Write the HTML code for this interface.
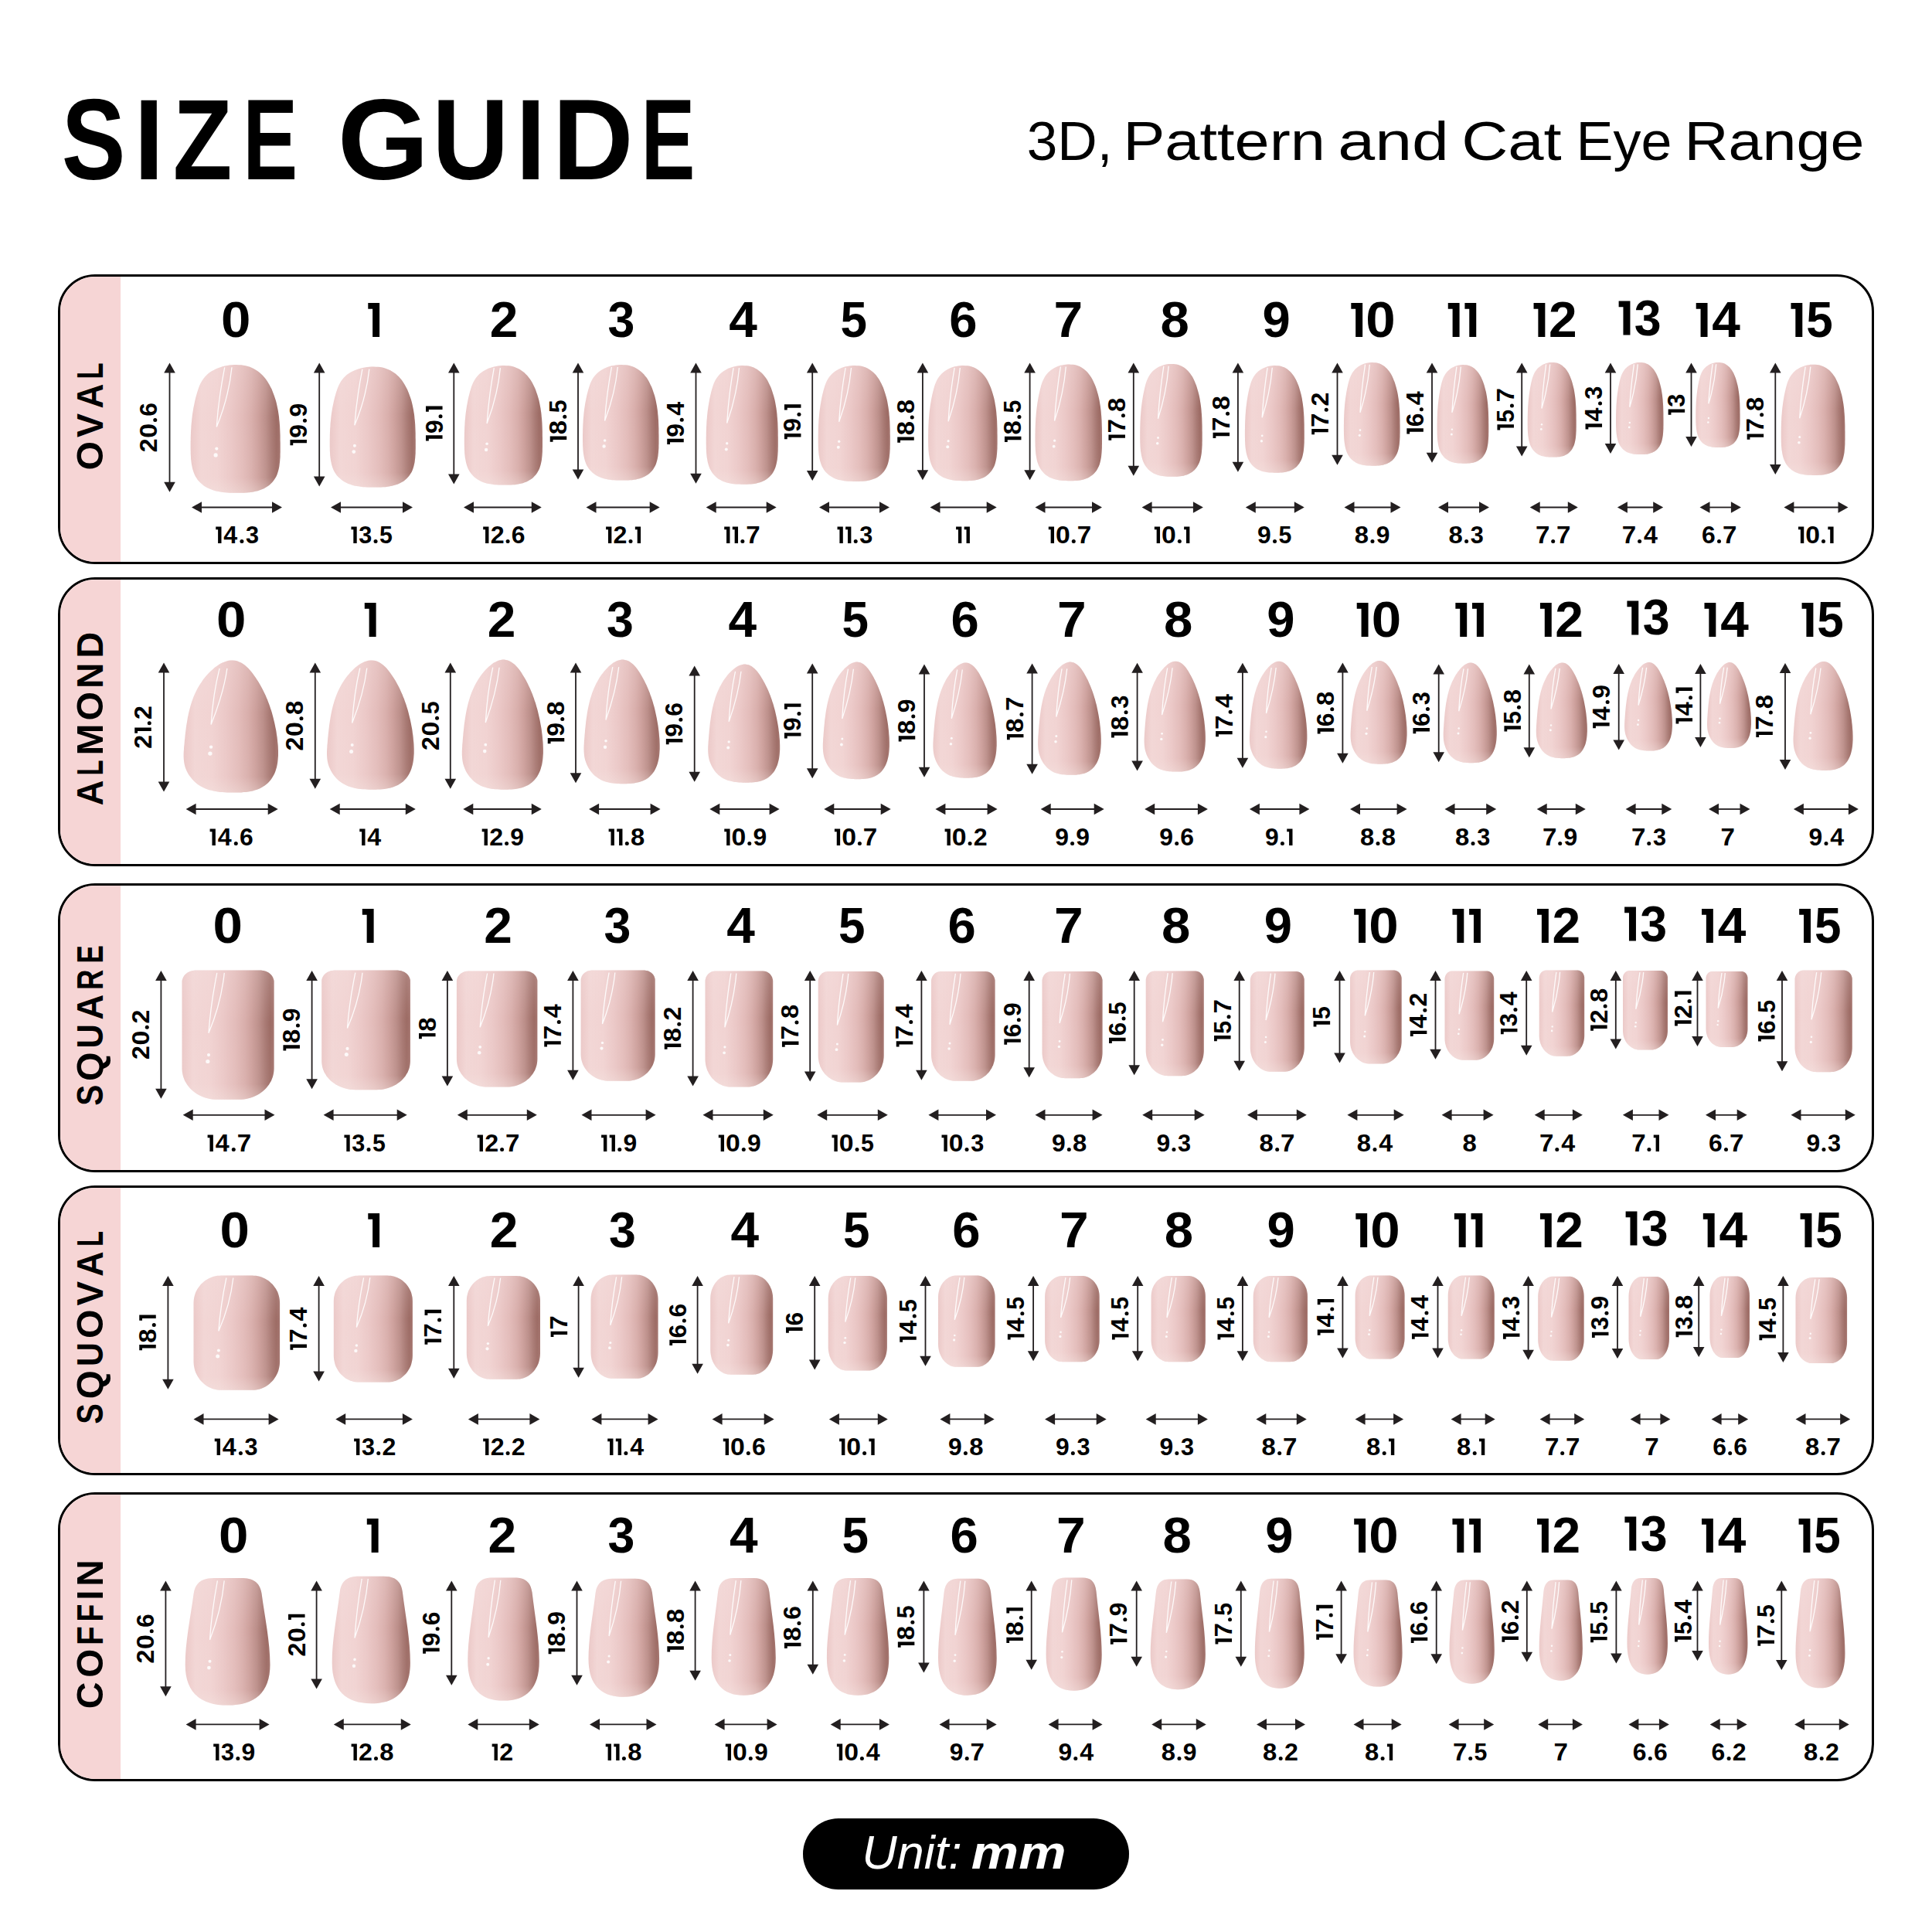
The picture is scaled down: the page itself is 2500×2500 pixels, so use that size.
<!DOCTYPE html>
<html><head><meta charset="utf-8"><style>
html,body{margin:0;padding:0;background:#fff;}
body{width:2500px;height:2500px;position:relative;overflow:hidden;font-family:"Liberation Sans",sans-serif;}
.panel{position:absolute;left:75px;width:2350px;border:3px solid #000;border-radius:48px;overflow:hidden;box-sizing:border-box;background:#fff;}
.strip{position:absolute;left:0;top:0;bottom:0;width:78px;background:#f6d5d5;}
svg{position:absolute;left:0;top:0;}
.gl{fill:none;stroke:#fff;stroke-width:1.3;opacity:.9;}
.sp{fill:#fff;opacity:.85;}
path{stroke:#231f20;stroke-width:1.8;fill:none;}
path.h{fill:#231f20;stroke:none;}
path.shape{stroke:none;fill:inherit;}
path.one{fill:#000;stroke:none;}
text{font-family:"Liberation Sans",sans-serif;fill:#000;font-kerning:none;}
.hd{font-weight:bold;font-size:64.0px;text-anchor:middle;}
.lb{font-weight:bold;font-size:31.3px;text-anchor:middle;}
.pill{position:absolute;left:1039px;top:2352.6px;width:421.5px;height:92.2px;border-radius:46.1px;background:#000;}
</style></head><body>
<svg width="2500" height="2500" viewBox="0 0 2500 2500" style="z-index:0">
<text transform="translate(79.73 232.2) scale(0.84 1)" style="font-weight:bold;font-size:147.7px">S</text><text transform="translate(173.17 232.2) scale(0.95 1)" style="font-weight:bold;font-size:147.7px">I</text><text transform="translate(223.86 232.2) scale(0.85 1)" style="font-weight:bold;font-size:147.7px">Z</text><text transform="translate(314.33 232.2) scale(0.72 1)" style="font-weight:bold;font-size:147.7px">E</text><text transform="translate(436.76 232.2) scale(1.03 1)" style="font-weight:bold;font-size:147.7px">G</text><text transform="translate(559.37 232.2) scale(0.93 1)" style="font-weight:bold;font-size:147.7px">U</text><text transform="translate(667.27 232.2) scale(0.95 1)" style="font-weight:bold;font-size:147.7px">I</text><text transform="translate(714.99 232.2) scale(0.98 1)" style="font-weight:bold;font-size:147.7px">D</text><text transform="translate(829.48 232.2) scale(0.71 1)" style="font-weight:bold;font-size:147.7px">E</text>
<text transform="translate(1328.68 207) scale(1 1)" style="font-size:71.2px">3D,</text><text transform="translate(1453.16 207) scale(1.14 1)" style="font-size:71.2px">Pattern</text><text transform="translate(1731.24 207) scale(1.21 1)" style="font-size:71.2px">and</text><text transform="translate(1891.16 207) scale(1.17 1)" style="font-size:71.2px">Cat</text><text transform="translate(2039.61 207) scale(1.01 1)" style="font-size:71.2px">Eye</text><text transform="translate(2179.52 207) scale(1.11 1)" style="font-size:71.2px">Range</text>
</svg>
<div class="panel" style="top:355.2px;height:374.5px"><div class="strip"></div></div>
<div class="panel" style="top:746.9px;height:374.1px"><div class="strip"></div></div>
<div class="panel" style="top:1143.4px;height:374px"><div class="strip"></div></div>
<div class="panel" style="top:1534.4px;height:374.4px"><div class="strip"></div></div>
<div class="panel" style="top:1931.2px;height:374.2px"><div class="strip"></div></div>
<div class="pill"></div>
<svg width="2500" height="2500" viewBox="0 0 2500 2500" style="z-index:2">
<defs>
<path id="s_oval" class="shape" d="M511 0L537 1 563 2 588 4 613 7 637 12 661 17 684 24 706 31 727 40 748 50 768 60 787 72 805 84 822 98 838 111 853 126 866 141 879 157 891 173 903 189 913 206 922 223 931 240 939 256 947 273 954 290 960 307 965 324 970 341 975 358 979 376 983 393 986 410 988 428 991 445 993 463 995 480 996 498 997 516 998 534 999 552 999 570 999 588 1000 607 1000 625 1000 644 1000 662 1000 681 999 700 999 719 997 737 995 756 992 774 989 792 984 809 978 826 971 843 963 859 953 874 941 888 928 902 913 915 896 927 878 939 859 949 838 958 817 966 794 973 771 979 748 984 723 988 699 992 673 995 648 997 622 998 596 999 569 1000 543 1000 516 1000 490 1000 464 999 438 999 412 998 386 997 360 995 335 992 310 989 286 986 262 981 239 976 216 970 193 962 171 954 150 945 130 934 112 923 95 911 79 898 66 884 53 870 43 855 34 839 26 822 20 806 15 788 10 771 7 753 4 734 3 716 1 697 1 679 0 660 0 641 0 623 0 605 1 586 1 568 2 550 3 532 4 514 6 496 7 478 9 461 12 443 14 426 17 408 20 391 24 373 28 356 32 338 37 321 42 304 47 287 53 269 59 252 66 235 73 217 81 200 89 183 98 166 108 150 120 134 133 119 147 105 163 92 180 80 198 68 218 58 239 48 261 40 284 32 307 25 332 19 356 14 382 9 407 6 433 3 459 1 486 0Z"/>
<path id="s_almond" class="shape" d="M521 0L543 2 565 5 587 11 608 18 628 27 648 37 666 48 684 60 700 73 716 86 732 101 746 115 761 130 774 144 788 159 800 174 812 189 824 204 836 220 846 235 857 251 867 266 876 282 886 298 894 314 903 330 911 346 918 362 926 378 933 395 939 411 945 427 951 444 957 461 962 477 967 494 972 511 977 528 981 545 984 562 988 579 991 597 993 614 996 632 998 649 999 667 1000 685 1000 703 1000 721 998 738 996 756 993 774 989 791 984 808 977 824 970 840 961 856 950 871 938 886 925 900 910 913 893 926 876 937 858 947 838 956 818 964 797 971 775 977 753 982 730 987 707 990 683 993 659 996 634 997 609 999 584 999 559 1000 534 1000 509 1000 484 1000 459 999 435 998 410 997 386 996 362 994 339 991 316 988 293 984 270 980 248 975 227 969 206 962 185 954 165 945 146 936 127 925 109 913 92 900 76 886 61 872 48 857 36 841 26 825 17 809 11 793 6 776 3 759 1 742 0 725 0 708 1 691 3 673 4 656 7 638 9 621 11 603 14 586 16 568 19 551 22 533 25 516 28 498 32 481 36 464 40 447 44 430 49 413 54 396 60 379 66 362 72 346 79 330 86 314 94 298 102 282 111 266 120 251 130 236 141 221 152 206 164 191 177 177 190 163 204 148 219 134 235 120 252 107 269 93 288 80 307 68 326 56 347 45 367 35 388 25 410 18 432 11 454 6 476 2 498 0Z"/>
<path id="s_coffin" class="shape" d="M340 0L660 0C790 0 880 30 900 120C940 320 1000 500 1000 680C1000 900 820 1000 500 1000C180 1000 0 900 0 680C0 500 60 320 100 120C120 30 210 0 340 0Z"/>
<path id="s_square" class="shape" d="M850 0L860 0 870 1 881 2 890 3 900 5 910 7 919 10 928 13 937 16 945 20 952 24 960 29 966 33 973 38 978 43 983 49 988 54 991 60 994 66 997 72 999 78 1000 84 1000 90 1000 760 999 776 996 793 992 809 986 825 978 840 969 856 957 870 945 885 930 898 915 911 898 924 879 935 860 946 839 956 817 965 795 973 771 980 747 986 723 991 697 995 672 998 646 999 620 1000 380 1000 354 999 328 998 303 995 277 991 253 986 229 980 205 973 183 965 161 956 140 946 121 935 102 924 85 911 70 898 55 885 43 870 31 856 22 840 14 825 8 809 4 793 1 776 0 760 0 90 0 84 1 78 3 72 6 66 9 60 12 54 17 49 22 43 27 38 34 33 40 29 48 24 55 20 63 16 72 13 81 10 90 7 100 5 110 3 119 2 130 1 140 0 150 0Z"/>
<path id="s_squoval" class="shape" d="M680 0L702 1 724 2 745 5 766 9 787 14 807 20 827 27 846 35 865 44 882 54 898 65 914 76 928 89 941 102 953 115 964 130 974 144 982 160 988 175 993 191 997 207 999 224 1000 240 1000 750 999 767 997 784 993 801 988 817 982 834 974 850 964 865 953 880 941 894 928 908 914 921 898 933 882 944 865 954 846 964 827 972 807 979 787 986 766 991 745 995 724 998 702 999 680 1000 320 1000 298 999 276 998 255 995 234 991 213 986 193 979 173 972 154 964 135 954 118 944 102 933 86 921 72 908 59 894 47 880 36 865 26 850 18 834 12 817 7 801 3 784 1 767 0 750 0 240 1 224 3 207 7 191 12 175 18 160 26 144 36 130 47 115 59 102 72 89 86 76 102 65 118 54 135 44 154 35 173 27 193 20 213 14 234 9 255 5 276 2 298 1 320 0Z"/>
<linearGradient id="gH" x1="0" y1="0" x2="1" y2="0">
<stop offset="0" stop-color="#ebc9c8"/>
<stop offset="0.06" stop-color="#efcfce"/>
<stop offset="0.12" stop-color="#f2d6d5"/>
<stop offset="0.3" stop-color="#f1d3d2"/>
<stop offset="0.45" stop-color="#ebc8c7"/>
<stop offset="0.58" stop-color="#e3bcba"/>
<stop offset="0.68" stop-color="#d9afac"/>
<stop offset="0.76" stop-color="#cda09c"/>
<stop offset="0.84" stop-color="#bc8f8a"/>
<stop offset="0.91" stop-color="#a87973"/>
<stop offset="0.96" stop-color="#9d6c65"/>
<stop offset="1" stop-color="#a4746e"/>
</linearGradient>
<linearGradient id="gV" x1="0" y1="0" x2="0" y2="1">
<stop offset="0" stop-color="#f6e6e6" stop-opacity="0.18"/>
<stop offset="0.4" stop-color="#f6e6e6" stop-opacity="0"/>
<stop offset="0.88" stop-color="#f6e8e4" stop-opacity="0.05"/>
<stop offset="1" stop-color="#f6eae6" stop-opacity="0.35"/>
</linearGradient>
</defs>
<text transform="translate(133.1 0) rotate(-90) translate(-608.58 0) scale(0.99 1)" style="font-weight:bold;font-size:48.7px">O</text>
<text transform="translate(133.1 0) rotate(-90) translate(-565.92 0) scale(0.96 1)" style="font-weight:bold;font-size:48.7px">V</text>
<text transform="translate(133.1 0) rotate(-90) translate(-528.51 0) scale(0.91 1)" style="font-weight:bold;font-size:48.7px">A</text>
<text transform="translate(133.1 0) rotate(-90) translate(-490.61 0) scale(0.71 1)" style="font-weight:bold;font-size:48.7px">L</text>
<use href="#s_oval" transform="translate(246.6 472) scale(0.11610 0.16580)" fill="url(#gH)"/>
<use href="#s_oval" transform="translate(246.6 472) scale(0.11610 0.16580)" fill="url(#gV)"/>
<path class="gl" d="M290.7 475.3C284.9 505.2 281.4 535 280.3 552.4C286.1 538.3 296.5 508.5 300 475.3"/>
<circle class="sp" cx="280.3" cy="580.6" r="2.1"/><circle class="sp" cx="279.1" cy="588.9" r="2.6"/>
<path d="M219.5 481.5V624.8"/><path class="h" d="M219.5 469.5l7.3 13h-14.6ZM219.5 636.8l7.3 -13h-14.6Z"/>
<g transform="translate(203.25 553.15) rotate(-90)" style="font-weight:bold;font-size:31.25px"><text transform="translate(-32.14 0) scale(1.03 1)">2</text><text transform="translate(-13.55 0) scale(1.08 1)">0</text><circle cx="9.71" cy="-2.5" r="2.5"/><text transform="translate(14.37 0) scale(1.02 1)">6</text></g>
<g transform="translate(305.1 436)" style="font-weight:bold;font-size:63.95px"><text transform="translate(-19.19 0) scale(1.08 1)">0</text></g>
<path d="M260 656.5H353"/><path class="h" d="M248 656.5l13 -7.3v14.6ZM365 656.5l-13 -7.3v14.6Z"/>
<g transform="translate(306.6 702.9)" style="font-weight:bold;font-size:31.25px"><path class="one" d="M-27.36 -21.5H-20.11V0H-24.5V-17.72H-27.36Z"/><text transform="translate(-17.27 0) scale(1.03 1)">4</text><circle cx="6.32" cy="-2.5" r="2.5"/><text transform="translate(11.46 0) scale(0.98 1)">3</text></g>
<use href="#s_oval" transform="translate(426.7 474.5) scale(0.11110 0.15610)" fill="url(#gH)"/>
<use href="#s_oval" transform="translate(426.7 474.5) scale(0.11110 0.15610)" fill="url(#gV)"/>
<path class="gl" d="M468.9 477.6C463.4 505.7 460 533.8 458.9 550.2C464.5 536.9 474.5 508.8 477.8 477.6"/>
<circle class="sp" cx="458.9" cy="576.7" r="2"/><circle class="sp" cx="457.8" cy="584.6" r="2.4"/>
<path d="M413.2 481.5V617.6"/><path class="h" d="M413.2 469.5l7.3 13h-14.6ZM413.2 629.6l7.3 -13h-14.6Z"/>
<g transform="translate(396.95 549.55) rotate(-90)" style="font-weight:bold;font-size:31.25px"><path class="one" d="M-26.61 -21.5H-19.36V0H-23.75V-17.72H-26.61Z"/><text transform="translate(-17.14 0) scale(1.02 1)">9</text><circle cx="5.29" cy="-2.5" r="2.5"/><text transform="translate(10.02 0) scale(1.02 1)">9</text></g>
<g transform="translate(483.7 436)" style="font-weight:bold;font-size:63.95px"><path class="one" d="M-7.41 -44H7.41V0H-1.56V-36.26H-7.41Z"/></g>
<path d="M440 656.5H522"/><path class="h" d="M428 656.5l13 -7.3v14.6ZM534 656.5l-13 -7.3v14.6Z"/>
<g transform="translate(480.7 702.9)" style="font-weight:bold;font-size:31.25px"><path class="one" d="M-26.25 -21.5H-19.01V0H-23.39V-17.72H-26.25Z"/><text transform="translate(-16.38 0) scale(0.98 1)">3</text><circle cx="5.36" cy="-2.5" r="2.5"/><text transform="translate(10.27 0) scale(0.97 1)">5</text></g>
<use href="#s_oval" transform="translate(600.8 473) scale(0.10120 0.15460)" fill="url(#gH)"/>
<use href="#s_oval" transform="translate(600.8 473) scale(0.10120 0.15460)" fill="url(#gV)"/>
<path class="gl" d="M639.3 476.1C634.2 503.9 631.2 531.7 630.1 548C635.2 534.8 644.3 507 647.4 476.1"/>
<circle class="sp" cx="630.1" cy="574.3" r="1.8"/><circle class="sp" cx="629.1" cy="582" r="2.2"/>
<path d="M587.3 481.5V614.6"/><path class="h" d="M587.3 469.5l7.3 13h-14.6ZM587.3 626.6l7.3 -13h-14.6Z"/>
<g transform="translate(572.55 548.05) rotate(-90)" style="font-weight:bold;font-size:31.25px"><path class="one" d="M-22.49 -21.5H-15.24V0H-19.63V-17.72H-22.49Z"/><text transform="translate(-13.02 0) scale(1.02 1)">9</text><circle cx="9.41" cy="-2.5" r="2.5"/><path class="one" d="M15.24 -21.5H22.49V0H18.1V-17.72H15.24Z"/></g>
<g transform="translate(651.8 436)" style="font-weight:bold;font-size:63.95px"><text transform="translate(-18.12 0) scale(1.03 1)">2</text></g>
<path d="M612 656.5H688.8"/><path class="h" d="M600 656.5l13 -7.3v14.6ZM700.8 656.5l-13 -7.3v14.6Z"/>
<g transform="translate(651.8 702.9)" style="font-weight:bold;font-size:31.25px"><path class="one" d="M-26.61 -21.5H-19.36V0H-23.75V-17.72H-26.61Z"/><text transform="translate(-17.14 0) scale(1.03 1)">2</text><circle cx="5.29" cy="-2.5" r="2.5"/><text transform="translate(9.95 0) scale(1.02 1)">6</text></g>
<use href="#s_oval" transform="translate(754 472) scale(0.09850 0.14960)" fill="url(#gH)"/>
<use href="#s_oval" transform="translate(754 472) scale(0.09850 0.14960)" fill="url(#gV)"/>
<path class="gl" d="M791.4 475C786.5 501.9 783.5 528.8 782.6 544.6C787.5 531.8 796.4 504.9 799.3 475"/>
<circle class="sp" cx="782.6" cy="570" r="1.8"/><circle class="sp" cx="781.6" cy="577.5" r="2.2"/>
<path d="M748 481.5V608.6"/><path class="h" d="M748 469.5l7.3 13h-14.6ZM748 620.6l7.3 -13h-14.6Z"/>
<g transform="translate(733.25 545.05) rotate(-90)" style="font-weight:bold;font-size:31.25px"><path class="one" d="M-26.77 -21.5H-19.52V0H-23.91V-17.72H-26.77Z"/><text transform="translate(-17.23 0) scale(1.05 1)">8</text><circle cx="5.88" cy="-2.5" r="2.5"/><text transform="translate(10.79 0) scale(0.97 1)">5</text></g>
<g transform="translate(803.6 436)" style="font-weight:bold;font-size:63.95px"><text transform="translate(-16.99 0) scale(0.98 1)">3</text></g>
<path d="M770.5 656.5H841.7"/><path class="h" d="M758.5 656.5l13 -7.3v14.6ZM853.7 656.5l-13 -7.3v14.6Z"/>
<g transform="translate(806.6 702.9)" style="font-weight:bold;font-size:31.25px"><path class="one" d="M-22.49 -21.5H-15.24V0H-19.63V-17.72H-22.49Z"/><text transform="translate(-13.03 0) scale(1.03 1)">2</text><circle cx="9.41" cy="-2.5" r="2.5"/><path class="one" d="M15.24 -21.5H22.49V0H18.1V-17.72H15.24Z"/></g>
<use href="#s_oval" transform="translate(913.7 473) scale(0.09310 0.15370)" fill="url(#gH)"/>
<use href="#s_oval" transform="translate(913.7 473) scale(0.09310 0.15370)" fill="url(#gV)"/>
<path class="gl" d="M949.1 476.1C944.4 503.7 941.6 531.4 940.7 547.5C945.4 534.5 953.7 506.8 956.5 476.1"/>
<circle class="sp" cx="940.7" cy="573.7" r="1.7"/><circle class="sp" cx="939.8" cy="581.4" r="2"/>
<path d="M900.5 481.5V613.7"/><path class="h" d="M900.5 469.5l7.3 13h-14.6ZM900.5 625.7l7.3 -13h-14.6Z"/>
<g transform="translate(884.75 547.6) rotate(-90)" style="font-weight:bold;font-size:31.25px"><path class="one" d="M-27.5 -21.5H-20.25V0H-24.64V-17.72H-27.5Z"/><text transform="translate(-18.03 0) scale(1.02 1)">9</text><circle cx="4.4" cy="-2.5" r="2.5"/><text transform="translate(9.75 0) scale(1.03 1)">4</text></g>
<g transform="translate(962 436)" style="font-weight:bold;font-size:63.95px"><text transform="translate(-18.66 0) scale(1.03 1)">4</text></g>
<path d="M925.7 656.5H992.7"/><path class="h" d="M913.7 656.5l13 -7.3v14.6ZM1004.7 656.5l-13 -7.3v14.6Z"/>
<g transform="translate(959.7 702.9)" style="font-weight:bold;font-size:31.25px"><path class="one" d="M-22.49 -21.5H-15.24V0H-19.63V-17.72H-22.49Z"/><path class="one" d="M-11.91 -21.5H-4.67V0H-9.05V-17.72H-11.91Z"/><circle cx="1.17" cy="-2.5" r="2.5"/><text transform="translate(5.59 0) scale(1.06 1)">7</text></g>
<use href="#s_oval" transform="translate(1058.7 473) scale(0.09310 0.15000)" fill="url(#gH)"/>
<use href="#s_oval" transform="translate(1058.7 473) scale(0.09310 0.15000)" fill="url(#gV)"/>
<path class="gl" d="M1094.1 476C1089.4 503 1086.6 530 1085.7 545.8C1090.4 533 1098.7 506 1101.5 476"/>
<circle class="sp" cx="1085.7" cy="571.2" r="1.7"/><circle class="sp" cx="1084.8" cy="578.8" r="2"/>
<path d="M1051.2 481.5V610"/><path class="h" d="M1051.2 469.5l7.3 13h-14.6ZM1051.2 622l7.3 -13h-14.6Z"/>
<g transform="translate(1036.45 545.75) rotate(-90)" style="font-weight:bold;font-size:31.25px"><path class="one" d="M-22.49 -21.5H-15.24V0H-19.63V-17.72H-22.49Z"/><text transform="translate(-13.02 0) scale(1.02 1)">9</text><circle cx="9.41" cy="-2.5" r="2.5"/><path class="one" d="M15.24 -21.5H22.49V0H18.1V-17.72H15.24Z"/></g>
<g transform="translate(1104.7 436)" style="font-weight:bold;font-size:63.95px"><text transform="translate(-17.3 0) scale(0.97 1)">5</text></g>
<path d="M1072 656.5H1139"/><path class="h" d="M1060 656.5l13 -7.3v14.6ZM1151 656.5l-13 -7.3v14.6Z"/>
<g transform="translate(1105.9 702.9)" style="font-weight:bold;font-size:31.25px"><path class="one" d="M-22.35 -21.5H-15.1V0H-19.49V-17.72H-22.35Z"/><path class="one" d="M-11.77 -21.5H-4.53V0H-8.91V-17.72H-11.77Z"/><circle cx="1.31" cy="-2.5" r="2.5"/><text transform="translate(6.45 0) scale(0.98 1)">3</text></g>
<use href="#s_oval" transform="translate(1201.1 473) scale(0.08950 0.14920)" fill="url(#gH)"/>
<use href="#s_oval" transform="translate(1201.1 473) scale(0.08950 0.14920)" fill="url(#gV)"/>
<path class="gl" d="M1235.1 476C1230.6 502.8 1227.9 529.7 1227.1 545.4C1231.5 532.7 1239.6 505.8 1242.3 476"/>
<circle class="sp" cx="1227.1" cy="570.7" r="1.6"/><circle class="sp" cx="1226.2" cy="578.2" r="2"/>
<path d="M1193.9 481.5V609.2"/><path class="h" d="M1193.9 469.5l7.3 13h-14.6ZM1193.9 621.2l7.3 -13h-14.6Z"/>
<g transform="translate(1182.75 545.35) rotate(-90)" style="font-weight:bold;font-size:31.25px"><path class="one" d="M-27.36 -21.5H-20.11V0H-24.5V-17.72H-27.36Z"/><text transform="translate(-17.82 0) scale(1.05 1)">8</text><circle cx="5.29" cy="-2.5" r="2.5"/><text transform="translate(10.08 0) scale(1.05 1)">8</text></g>
<g transform="translate(1246.5 436)" style="font-weight:bold;font-size:63.95px"><text transform="translate(-18.24 0) scale(1.02 1)">6</text></g>
<path d="M1215.5 656.5H1277.7"/><path class="h" d="M1203.5 656.5l13 -7.3v14.6ZM1289.7 656.5l-13 -7.3v14.6Z"/>
<g transform="translate(1246 702.9)" style="font-weight:bold;font-size:31.25px"><path class="one" d="M-8.91 -21.5H-1.67V0H-6.05V-17.72H-8.91Z"/><path class="one" d="M1.67 -21.5H8.91V0H4.53V-17.72H1.67Z"/></g>
<use href="#s_oval" transform="translate(1339.5 471.5) scale(0.08650 0.15070)" fill="url(#gH)"/>
<use href="#s_oval" transform="translate(1339.5 471.5) scale(0.08650 0.15070)" fill="url(#gV)"/>
<path class="gl" d="M1372.4 474.5C1368 501.6 1365.5 528.8 1364.6 544.6C1368.9 531.8 1376.7 504.7 1379.3 474.5"/>
<circle class="sp" cx="1364.6" cy="570.2" r="1.6"/><circle class="sp" cx="1363.7" cy="577.7" r="1.9"/>
<path d="M1332.6 481.5V609.2"/><path class="h" d="M1332.6 469.5l7.3 13h-14.6ZM1332.6 621.2l7.3 -13h-14.6Z"/>
<g transform="translate(1321.45 545.35) rotate(-90)" style="font-weight:bold;font-size:31.25px"><path class="one" d="M-26.77 -21.5H-19.52V0H-23.91V-17.72H-26.77Z"/><text transform="translate(-17.23 0) scale(1.05 1)">8</text><circle cx="5.88" cy="-2.5" r="2.5"/><text transform="translate(10.79 0) scale(0.97 1)">5</text></g>
<g transform="translate(1382.2 436)" style="font-weight:bold;font-size:63.95px"><text transform="translate(-18.74 0) scale(1.06 1)">7</text></g>
<path d="M1351.5 656.5H1414"/><path class="h" d="M1339.5 656.5l13 -7.3v14.6ZM1426 656.5l-13 -7.3v14.6Z"/>
<g transform="translate(1383.7 702.9)" style="font-weight:bold;font-size:31.25px"><path class="one" d="M-26.91 -21.5H-19.66V0H-24.05V-17.72H-26.91Z"/><text transform="translate(-17.67 0) scale(1.08 1)">0</text><circle cx="5.59" cy="-2.5" r="2.5"/><text transform="translate(10.01 0) scale(1.06 1)">7</text></g>
<use href="#s_oval" transform="translate(1475.2 470.9) scale(0.08050 0.14590)" fill="url(#gH)"/>
<use href="#s_oval" transform="translate(1475.2 470.9) scale(0.08050 0.14590)" fill="url(#gV)"/>
<path class="gl" d="M1505.8 473.8C1501.8 500.1 1499.4 526.3 1498.5 541.7C1502.6 529.3 1509.8 503 1512.2 473.8"/>
<circle class="sp" cx="1498.5" cy="566.5" r="1.4"/><circle class="sp" cx="1497.7" cy="573.8" r="1.8"/>
<path d="M1466.8 481.5V603.8"/><path class="h" d="M1466.8 469.5l7.3 13h-14.6ZM1466.8 615.8l7.3 -13h-14.6Z"/>
<g transform="translate(1455.95 542.65) rotate(-90)" style="font-weight:bold;font-size:31.25px"><path class="one" d="M-26.98 -21.5H-19.74V0H-24.12V-17.72H-26.98Z"/><text transform="translate(-17.82 0) scale(1.06 1)">7</text><circle cx="4.91" cy="-2.5" r="2.5"/><text transform="translate(9.71 0) scale(1.05 1)">8</text></g>
<g transform="translate(1520.2 436)" style="font-weight:bold;font-size:63.95px"><text transform="translate(-18.75 0) scale(1.05 1)">8</text></g>
<path d="M1489.6 656.5H1544.9"/><path class="h" d="M1477.6 656.5l13 -7.3v14.6ZM1556.9 656.5l-13 -7.3v14.6Z"/>
<g transform="translate(1516.6 702.9)" style="font-weight:bold;font-size:31.25px"><path class="one" d="M-22.79 -21.5H-15.54V0H-19.93V-17.72H-22.79Z"/><text transform="translate(-13.55 0) scale(1.08 1)">0</text><circle cx="9.71" cy="-2.5" r="2.5"/><path class="one" d="M15.54 -21.5H22.79V0H18.4V-17.72H15.54Z"/></g>
<use href="#s_oval" transform="translate(1610.9 473) scale(0.07690 0.13870)" fill="url(#gH)"/>
<use href="#s_oval" transform="translate(1610.9 473) scale(0.07690 0.13870)" fill="url(#gV)"/>
<path class="gl" d="M1640.1 475.8C1636.3 500.7 1634 525.7 1633.2 540.3C1637 528.5 1644 503.5 1646.3 475.8"/>
<circle class="sp" cx="1633.2" cy="563.8" r="1.4"/><circle class="sp" cx="1632.4" cy="570.8" r="1.7"/>
<path d="M1601.9 481.5V598.7"/><path class="h" d="M1601.9 469.5l7.3 13h-14.6ZM1601.9 610.7l7.3 -13h-14.6Z"/>
<g transform="translate(1591.05 540.1) rotate(-90)" style="font-weight:bold;font-size:31.25px"><path class="one" d="M-26.98 -21.5H-19.74V0H-24.12V-17.72H-26.98Z"/><text transform="translate(-17.82 0) scale(1.06 1)">7</text><circle cx="4.91" cy="-2.5" r="2.5"/><text transform="translate(9.71 0) scale(1.05 1)">8</text></g>
<g transform="translate(1651.7 436)" style="font-weight:bold;font-size:63.95px"><text transform="translate(-18.11 0) scale(1.02 1)">9</text></g>
<path d="M1623.8 656.5H1675.8"/><path class="h" d="M1611.8 656.5l13 -7.3v14.6ZM1687.8 656.5l-13 -7.3v14.6Z"/>
<g transform="translate(1649.3 702.9)" style="font-weight:bold;font-size:31.25px"><text transform="translate(-22.21 0) scale(1.02 1)">9</text><circle cx="0.22" cy="-2.5" r="2.5"/><text transform="translate(5.12 0) scale(0.97 1)">5</text></g>
<use href="#s_oval" transform="translate(1738.9 469) scale(0.07270 0.13370)" fill="url(#gH)"/>
<use href="#s_oval" transform="translate(1738.9 469) scale(0.07270 0.13370)" fill="url(#gV)"/>
<path class="gl" d="M1766.5 471.7C1762.9 495.7 1760.7 519.8 1760 533.8C1763.6 522.5 1770.2 498.4 1772.3 471.7"/>
<circle class="sp" cx="1760" cy="556.6" r="1.3"/><circle class="sp" cx="1759.3" cy="563.3" r="1.6"/>
<path d="M1730.5 481.5V589.7"/><path class="h" d="M1730.5 469.5l7.3 13h-14.6ZM1730.5 601.7l7.3 -13h-14.6Z"/>
<g transform="translate(1718.75 535.6) rotate(-90)" style="font-weight:bold;font-size:31.25px"><path class="one" d="M-26.61 -21.5H-19.36V0H-23.75V-17.72H-26.61Z"/><text transform="translate(-17.45 0) scale(1.06 1)">7</text><circle cx="5.29" cy="-2.5" r="2.5"/><text transform="translate(10.01 0) scale(1.03 1)">2</text></g>
<g transform="translate(1775.6 436)" style="font-weight:bold;font-size:63.95px"><path class="one" d="M-27.28 -44H-12.45V0H-21.43V-36.26H-27.28Z"/><text transform="translate(-8.37 0) scale(1.08 1)">0</text></g>
<path d="M1751.5 656.5H1800.5"/><path class="h" d="M1739.5 656.5l13 -7.3v14.6ZM1812.5 656.5l-13 -7.3v14.6Z"/>
<g transform="translate(1775.6 702.9)" style="font-weight:bold;font-size:31.25px"><text transform="translate(-22.74 0) scale(1.05 1)">8</text><circle cx="0.38" cy="-2.5" r="2.5"/><text transform="translate(5.11 0) scale(1.02 1)">9</text></g>
<use href="#s_oval" transform="translate(1859.6 472) scale(0.06670 0.12770)" fill="url(#gH)"/>
<use href="#s_oval" transform="translate(1859.6 472) scale(0.06670 0.12770)" fill="url(#gV)"/>
<path class="gl" d="M1884.9 474.6C1881.6 497.5 1879.6 520.5 1878.9 533.9C1882.3 523.1 1888.3 500.1 1890.3 474.6"/>
<circle class="sp" cx="1878.9" cy="555.6" r="1.2"/><circle class="sp" cx="1878.3" cy="562" r="1.5"/>
<path d="M1853 481.5V586.7"/><path class="h" d="M1853 469.5l7.3 13h-14.6ZM1853 598.7l7.3 -13h-14.6Z"/>
<g transform="translate(1841.85 534.1) rotate(-90)" style="font-weight:bold;font-size:31.25px"><path class="one" d="M-27.5 -21.5H-20.25V0H-24.64V-17.72H-27.5Z"/><text transform="translate(-18.09 0) scale(1.02 1)">6</text><circle cx="4.4" cy="-2.5" r="2.5"/><text transform="translate(9.75 0) scale(1.03 1)">4</text></g>
<g transform="translate(1892 436)" style="font-weight:bold;font-size:63.95px"><path class="one" d="M-18.24 -44H-3.41V0H-12.39V-36.26H-18.24Z"/><path class="one" d="M3.41 -44H18.24V0H9.26V-36.26H3.41Z"/></g>
<path d="M1873 656.5H1915"/><path class="h" d="M1861 656.5l13 -7.3v14.6ZM1927 656.5l-13 -7.3v14.6Z"/>
<g transform="translate(1897.1 702.9)" style="font-weight:bold;font-size:31.25px"><text transform="translate(-22.6 0) scale(1.05 1)">8</text><circle cx="0.52" cy="-2.5" r="2.5"/><text transform="translate(5.65 0) scale(0.98 1)">3</text></g>
<use href="#s_oval" transform="translate(1976.7 469) scale(0.06300 0.12260)" fill="url(#gH)"/>
<use href="#s_oval" transform="translate(1976.7 469) scale(0.06300 0.12260)" fill="url(#gV)"/>
<path class="gl" d="M2000.6 471.5C1997.5 493.5 1995.6 515.6 1995 528.5C1998.1 518 2003.8 496 2005.7 471.5"/>
<circle class="sp" cx="1995" cy="549.3" r="1.2"/><circle class="sp" cx="1994.3" cy="555.4" r="1.4"/>
<path d="M1969.2 481.5V578.6"/><path class="h" d="M1969.2 469.5l7.3 13h-14.6ZM1969.2 590.6l7.3 -13h-14.6Z"/>
<g transform="translate(1958.95 530.05) rotate(-90)" style="font-weight:bold;font-size:31.25px"><path class="one" d="M-26.39 -21.5H-19.15V0H-23.53V-17.72H-26.39Z"/><text transform="translate(-16.74 0) scale(0.97 1)">5</text><circle cx="5.07" cy="-2.5" r="2.5"/><text transform="translate(9.49 0) scale(1.06 1)">7</text></g>
<g transform="translate(2011.2 436)" style="font-weight:bold;font-size:63.95px"><path class="one" d="M-26.66 -44H-11.84V0H-20.81V-36.26H-26.66Z"/><text transform="translate(-7.3 0) scale(1.03 1)">2</text></g>
<path d="M1991.7 656.5H2029.8"/><path class="h" d="M1979.7 656.5l13 -7.3v14.6ZM2041.8 656.5l-13 -7.3v14.6Z"/>
<g transform="translate(2009.7 702.9)" style="font-weight:bold;font-size:31.25px"><text transform="translate(-22.73 0) scale(1.06 1)">7</text><circle cx="0" cy="-2.5" r="2.5"/><text transform="translate(4.42 0) scale(1.06 1)">7</text></g>
<use href="#s_oval" transform="translate(2091 469) scale(0.06150 0.11900)" fill="url(#gH)"/>
<use href="#s_oval" transform="translate(2091 469) scale(0.06150 0.11900)" fill="url(#gV)"/>
<path class="gl" d="M2114.4 471.4C2111.3 492.8 2109.4 514.2 2108.8 526.7C2111.9 516.6 2117.4 495.2 2119.3 471.4"/>
<circle class="sp" cx="2108.8" cy="546.9" r="1.2"/><circle class="sp" cx="2108.2" cy="552.9" r="1.4"/>
<path d="M2084 481.5V575"/><path class="h" d="M2084 469.5l7.3 13h-14.6ZM2084 587l7.3 -13h-14.6Z"/>
<g transform="translate(2073.05 528.25) rotate(-90)" style="font-weight:bold;font-size:31.25px"><path class="one" d="M-27.36 -21.5H-20.11V0H-24.5V-17.72H-27.36Z"/><text transform="translate(-17.27 0) scale(1.03 1)">4</text><circle cx="6.32" cy="-2.5" r="2.5"/><text transform="translate(11.46 0) scale(0.98 1)">3</text></g>
<g transform="translate(2121 433.5)" style="font-weight:bold;font-size:63.95px"><path class="one" d="M-26.38 -44H-11.55V0H-20.53V-36.26H-26.38Z"/><text transform="translate(-6.17 0) scale(0.98 1)">3</text></g>
<path d="M2104.9 656.5H2140.2"/><path class="h" d="M2092.9 656.5l13 -7.3v14.6ZM2152.2 656.5l-13 -7.3v14.6Z"/>
<g transform="translate(2122.5 702.9)" style="font-weight:bold;font-size:31.25px"><text transform="translate(-23.63 0) scale(1.06 1)">7</text><circle cx="-0.89" cy="-2.5" r="2.5"/><text transform="translate(4.46 0) scale(1.03 1)">4</text></g>
<use href="#s_oval" transform="translate(2194.3 469) scale(0.05730 0.11000)" fill="url(#gH)"/>
<use href="#s_oval" transform="translate(2194.3 469) scale(0.05730 0.11000)" fill="url(#gV)"/>
<path class="gl" d="M2216.1 471.2C2213.2 491 2211.5 510.8 2210.9 522.4C2213.8 513 2218.9 493.2 2220.7 471.2"/>
<circle class="sp" cx="2210.9" cy="541" r="1.2"/><circle class="sp" cx="2210.3" cy="546.5" r="1.3"/>
<path d="M2188.5 481.5V566"/><path class="h" d="M2188.5 469.5l7.3 13h-14.6ZM2188.5 578l7.3 -13h-14.6Z"/>
<g transform="translate(2180.15 523.75) rotate(-90)" style="font-weight:bold;font-size:31.25px"><path class="one" d="M-12.89 -21.5H-5.64V0H-10.03V-17.72H-12.89Z"/><text transform="translate(-3.01 0) scale(0.98 1)">3</text></g>
<g transform="translate(2223.2 436)" style="font-weight:bold;font-size:63.95px"><path class="one" d="M-28.49 -44H-13.66V0H-22.64V-36.26H-28.49Z"/><text transform="translate(-7.84 0) scale(1.03 1)">4</text></g>
<path d="M2211.5 656.5H2240.9"/><path class="h" d="M2199.5 656.5l13 -7.3v14.6ZM2252.9 656.5l-13 -7.3v14.6Z"/>
<g transform="translate(2224.5 702.9)" style="font-weight:bold;font-size:31.25px"><text transform="translate(-22.49 0) scale(1.02 1)">6</text><circle cx="0" cy="-2.5" r="2.5"/><text transform="translate(4.42 0) scale(1.06 1)">7</text></g>
<use href="#s_oval" transform="translate(2304.7 471.7) scale(0.08280 0.14330)" fill="url(#gH)"/>
<use href="#s_oval" transform="translate(2304.7 471.7) scale(0.08280 0.14330)" fill="url(#gV)"/>
<path class="gl" d="M2336.2 474.6C2332 500.4 2329.5 526.2 2328.7 541.2C2332.9 529 2340.3 503.2 2342.8 474.6"/>
<circle class="sp" cx="2328.7" cy="565.6" r="1.5"/><circle class="sp" cx="2327.9" cy="572.7" r="1.8"/>
<path d="M2297.3 481.5V602"/><path class="h" d="M2297.3 469.5l7.3 13h-14.6ZM2297.3 614l7.3 -13h-14.6Z"/>
<g transform="translate(2282.15 541.75) rotate(-90)" style="font-weight:bold;font-size:31.25px"><path class="one" d="M-26.98 -21.5H-19.74V0H-24.12V-17.72H-26.98Z"/><text transform="translate(-17.82 0) scale(1.06 1)">7</text><circle cx="4.91" cy="-2.5" r="2.5"/><text transform="translate(9.71 0) scale(1.05 1)">8</text></g>
<g transform="translate(2343.7 436)" style="font-weight:bold;font-size:63.95px"><path class="one" d="M-26.22 -44H-11.4V0H-20.37V-36.26H-26.22Z"/><text transform="translate(-6.48 0) scale(0.97 1)">5</text></g>
<path d="M2320.4 656.5H2379.5"/><path class="h" d="M2308.4 656.5l13 -7.3v14.6ZM2391.5 656.5l-13 -7.3v14.6Z"/>
<g transform="translate(2349.8 702.9)" style="font-weight:bold;font-size:31.25px"><path class="one" d="M-22.79 -21.5H-15.54V0H-19.93V-17.72H-22.79Z"/><text transform="translate(-13.55 0) scale(1.08 1)">0</text><circle cx="9.71" cy="-2.5" r="2.5"/><path class="one" d="M15.54 -21.5H22.79V0H18.4V-17.72H15.54Z"/></g>
<text transform="translate(133.1 0) rotate(-90) translate(-1042.54 0) scale(0.94 1)" style="font-weight:bold;font-size:48.7px">A</text>
<text transform="translate(133.1 0) rotate(-90) translate(-1003.49 0) scale(0.67 1)" style="font-weight:bold;font-size:48.7px">L</text>
<text transform="translate(133.1 0) rotate(-90) translate(-977.6 0) scale(1.01 1)" style="font-weight:bold;font-size:48.7px">M</text>
<text transform="translate(133.1 0) rotate(-90) translate(-932.48 0) scale(0.99 1)" style="font-weight:bold;font-size:48.7px">O</text>
<text transform="translate(133.1 0) rotate(-90) translate(-890.67 0) scale(0.94 1)" style="font-weight:bold;font-size:48.7px">N</text>
<text transform="translate(133.1 0) rotate(-90) translate(-851.65 0) scale(0.97 1)" style="font-weight:bold;font-size:48.7px">D</text>
<use href="#s_almond" transform="translate(237.6 854.5) scale(0.12240 0.17110)" fill="url(#gH)"/>
<use href="#s_almond" transform="translate(237.6 854.5) scale(0.12240 0.17110)" fill="url(#gV)"/>
<path class="gl" d="M284.1 864.8C278 888.7 274.3 919.5 273.1 937.5C279.2 922.9 290.2 892.1 293.9 864.8"/>
<circle class="sp" cx="273.1" cy="966.6" r="2.2"/><circle class="sp" cx="271.9" cy="975.1" r="2.7"/>
<path d="M212 869.5V1012.6"/><path class="h" d="M212 857.5l7.3 13h-14.6ZM212 1024.6l7.3 -13h-14.6Z"/>
<g transform="translate(195.75 941.05) rotate(-90)" style="font-weight:bold;font-size:31.25px"><text transform="translate(-27.72 0) scale(1.03 1)">2</text><path class="one" d="M-7.79 -21.5H-0.55V0H-4.93V-17.72H-7.79Z"/><circle cx="5.29" cy="-2.5" r="2.5"/><text transform="translate(10.01 0) scale(1.03 1)">2</text></g>
<g transform="translate(299.1 823.9)" style="font-weight:bold;font-size:63.95px"><text transform="translate(-19.19 0) scale(1.08 1)">0</text></g>
<path d="M252.6 1047H347.7"/><path class="h" d="M240.6 1047l13 -7.3v14.6ZM359.7 1047l-13 -7.3v14.6Z"/>
<g transform="translate(299.1 1093.9)" style="font-weight:bold;font-size:31.25px"><path class="one" d="M-27.5 -21.5H-20.25V0H-24.64V-17.72H-27.5Z"/><text transform="translate(-17.41 0) scale(1.03 1)">4</text><circle cx="6.18" cy="-2.5" r="2.5"/><text transform="translate(10.85 0) scale(1.02 1)">6</text></g>
<use href="#s_almond" transform="translate(423 854.5) scale(0.11270 0.16720)" fill="url(#gH)"/>
<use href="#s_almond" transform="translate(423 854.5) scale(0.11270 0.16720)" fill="url(#gV)"/>
<path class="gl" d="M465.8 864.5C460.2 887.9 456.8 918 455.7 935.6C461.3 921.4 471.5 891.3 474.8 864.5"/>
<circle class="sp" cx="455.7" cy="964" r="2"/><circle class="sp" cx="454.6" cy="972.4" r="2.5"/>
<path d="M407.8 869.5V1008.7"/><path class="h" d="M407.8 857.5l7.3 13h-14.6ZM407.8 1020.7l7.3 -13h-14.6Z"/>
<g transform="translate(392.45 939.1) rotate(-90)" style="font-weight:bold;font-size:31.25px"><text transform="translate(-32.52 0) scale(1.03 1)">2</text><text transform="translate(-13.93 0) scale(1.08 1)">0</text><circle cx="9.33" cy="-2.5" r="2.5"/><text transform="translate(14.12 0) scale(1.05 1)">8</text></g>
<g transform="translate(479.2 823.9)" style="font-weight:bold;font-size:63.95px"><path class="one" d="M-7.41 -44H7.41V0H-1.56V-36.26H-7.41Z"/></g>
<path d="M438.7 1047H525.8"/><path class="h" d="M426.7 1047l13 -7.3v14.6ZM537.8 1047l-13 -7.3v14.6Z"/>
<g transform="translate(479.2 1093.9)" style="font-weight:bold;font-size:31.25px"><path class="one" d="M-13.92 -21.5H-6.68V0H-11.06V-17.72H-13.92Z"/><text transform="translate(-3.83 0) scale(1.03 1)">4</text></g>
<use href="#s_almond" transform="translate(597.8 853.6) scale(0.10510 0.16810)" fill="url(#gH)"/>
<use href="#s_almond" transform="translate(597.8 853.6) scale(0.10510 0.16810)" fill="url(#gV)"/>
<path class="gl" d="M637.7 863.7C632.5 887.2 629.3 917.5 628.3 935.1C633.5 920.8 643 890.6 646.1 863.7"/>
<circle class="sp" cx="628.3" cy="963.7" r="1.9"/><circle class="sp" cx="627.2" cy="972.1" r="2.3"/>
<path d="M582.8 869.5V1008.7"/><path class="h" d="M582.8 857.5l7.3 13h-14.6ZM582.8 1020.7l7.3 -13h-14.6Z"/>
<g transform="translate(568.05 939.1) rotate(-90)" style="font-weight:bold;font-size:31.25px"><text transform="translate(-31.92 0) scale(1.03 1)">2</text><text transform="translate(-13.33 0) scale(1.08 1)">0</text><circle cx="9.92" cy="-2.5" r="2.5"/><text transform="translate(14.83 0) scale(0.97 1)">5</text></g>
<g transform="translate(648.8 823.9)" style="font-weight:bold;font-size:63.95px"><text transform="translate(-18.12 0) scale(1.03 1)">2</text></g>
<path d="M611.3 1047H688.8"/><path class="h" d="M599.3 1047l13 -7.3v14.6ZM700.8 1047l-13 -7.3v14.6Z"/>
<g transform="translate(650.3 1093.9)" style="font-weight:bold;font-size:31.25px"><path class="one" d="M-26.61 -21.5H-19.36V0H-23.75V-17.72H-26.61Z"/><text transform="translate(-17.14 0) scale(1.03 1)">2</text><circle cx="5.29" cy="-2.5" r="2.5"/><text transform="translate(10.02 0) scale(1.02 1)">9</text></g>
<use href="#s_almond" transform="translate(755.5 853.6) scale(0.09820 0.16060)" fill="url(#gH)"/>
<use href="#s_almond" transform="translate(755.5 853.6) scale(0.09820 0.16060)" fill="url(#gV)"/>
<path class="gl" d="M792.8 863.2C787.9 885.7 785 914.6 784 931.5C788.9 917.8 797.7 888.9 800.7 863.2"/>
<circle class="sp" cx="784" cy="958.8" r="1.8"/><circle class="sp" cx="783" cy="966.8" r="2.2"/>
<path d="M745 869.5V1001.2"/><path class="h" d="M745 857.5l7.3 13h-14.6ZM745 1013.2l7.3 -13h-14.6Z"/>
<g transform="translate(730.25 935.35) rotate(-90)" style="font-weight:bold;font-size:31.25px"><path class="one" d="M-26.98 -21.5H-19.74V0H-24.12V-17.72H-26.98Z"/><text transform="translate(-17.51 0) scale(1.02 1)">9</text><circle cx="4.91" cy="-2.5" r="2.5"/><text transform="translate(9.71 0) scale(1.05 1)">8</text></g>
<g transform="translate(802 823.9)" style="font-weight:bold;font-size:63.95px"><text transform="translate(-16.99 0) scale(0.98 1)">3</text></g>
<path d="M774.1 1047H842.6"/><path class="h" d="M762.1 1047l13 -7.3v14.6ZM854.6 1047l-13 -7.3v14.6Z"/>
<g transform="translate(810.5 1093.9)" style="font-weight:bold;font-size:31.25px"><path class="one" d="M-22.87 -21.5H-15.62V0H-20.01V-17.72H-22.87Z"/><path class="one" d="M-12.29 -21.5H-5.04V0H-9.43V-17.72H-12.29Z"/><circle cx="0.8" cy="-2.5" r="2.5"/><text transform="translate(5.59 0) scale(1.05 1)">8</text></g>
<use href="#s_almond" transform="translate(916.2 859.6) scale(0.09300 0.15310)" fill="url(#gH)"/>
<use href="#s_almond" transform="translate(916.2 859.6) scale(0.09300 0.15310)" fill="url(#gV)"/>
<path class="gl" d="M951.5 868.8C946.9 890.2 944.1 917.8 943.2 933.9C947.8 920.8 956.2 893.3 959 868.8"/>
<circle class="sp" cx="943.2" cy="959.9" r="1.7"/><circle class="sp" cx="942.2" cy="967.5" r="2"/>
<path d="M898.7 873.6V999.7"/><path class="h" d="M898.7 861.6l7.3 13h-14.6ZM898.7 1011.7l7.3 -13h-14.6Z"/>
<g transform="translate(883.35 936.65) rotate(-90)" style="font-weight:bold;font-size:31.25px"><path class="one" d="M-26.61 -21.5H-19.36V0H-23.75V-17.72H-26.61Z"/><text transform="translate(-17.14 0) scale(1.02 1)">9</text><circle cx="5.29" cy="-2.5" r="2.5"/><text transform="translate(9.95 0) scale(1.02 1)">6</text></g>
<g transform="translate(961.2 823.9)" style="font-weight:bold;font-size:63.95px"><text transform="translate(-18.66 0) scale(1.03 1)">4</text></g>
<path d="M930.3 1047H996.6"/><path class="h" d="M918.3 1047l13 -7.3v14.6ZM1008.6 1047l-13 -7.3v14.6Z"/>
<g transform="translate(964.2 1093.9)" style="font-weight:bold;font-size:31.25px"><path class="one" d="M-26.91 -21.5H-19.66V0H-24.05V-17.72H-26.91Z"/><text transform="translate(-17.67 0) scale(1.08 1)">0</text><circle cx="5.59" cy="-2.5" r="2.5"/><text transform="translate(10.32 0) scale(1.02 1)">9</text></g>
<use href="#s_almond" transform="translate(1064.8 856.6) scale(0.08610 0.15160)" fill="url(#gH)"/>
<use href="#s_almond" transform="translate(1064.8 856.6) scale(0.08610 0.15160)" fill="url(#gV)"/>
<path class="gl" d="M1097.5 865.7C1093.2 886.9 1090.6 914.2 1089.8 930.1C1094.1 917.2 1101.8 890 1104.4 865.7"/>
<circle class="sp" cx="1089.8" cy="955.9" r="1.5"/><circle class="sp" cx="1088.9" cy="963.5" r="1.9"/>
<path d="M1051.2 870.6V995.2"/><path class="h" d="M1051.2 858.6l7.3 13h-14.6ZM1051.2 1007.2l7.3 -13h-14.6Z"/>
<g transform="translate(1036.45 932.9) rotate(-90)" style="font-weight:bold;font-size:31.25px"><path class="one" d="M-22.49 -21.5H-15.24V0H-19.63V-17.72H-22.49Z"/><text transform="translate(-13.02 0) scale(1.02 1)">9</text><circle cx="9.41" cy="-2.5" r="2.5"/><path class="one" d="M15.24 -21.5H22.49V0H18.1V-17.72H15.24Z"/></g>
<g transform="translate(1106.8 823.9)" style="font-weight:bold;font-size:63.95px"><text transform="translate(-17.3 0) scale(0.97 1)">5</text></g>
<path d="M1078.3 1047H1140.7"/><path class="h" d="M1066.3 1047l13 -7.3v14.6ZM1152.7 1047l-13 -7.3v14.6Z"/>
<g transform="translate(1106.8 1093.9)" style="font-weight:bold;font-size:31.25px"><path class="one" d="M-26.91 -21.5H-19.66V0H-24.05V-17.72H-26.91Z"/><text transform="translate(-17.67 0) scale(1.08 1)">0</text><circle cx="5.59" cy="-2.5" r="2.5"/><text transform="translate(10.01 0) scale(1.06 1)">7</text></g>
<use href="#s_almond" transform="translate(1207.4 857.5) scale(0.08230 0.14920)" fill="url(#gH)"/>
<use href="#s_almond" transform="translate(1207.4 857.5) scale(0.08230 0.14920)" fill="url(#gV)"/>
<path class="gl" d="M1238.7 866.5C1234.6 887.3 1232.1 914.2 1231.3 929.9C1235.4 917.2 1242.8 890.3 1245.3 866.5"/>
<circle class="sp" cx="1231.3" cy="955.2" r="1.5"/><circle class="sp" cx="1230.4" cy="962.7" r="1.8"/>
<path d="M1196 871.5V993.7"/><path class="h" d="M1196 859.5l7.3 13h-14.6ZM1196 1005.7l7.3 -13h-14.6Z"/>
<g transform="translate(1184.25 932.6) rotate(-90)" style="font-weight:bold;font-size:31.25px"><path class="one" d="M-26.98 -21.5H-19.74V0H-24.12V-17.72H-26.98Z"/><text transform="translate(-17.45 0) scale(1.05 1)">8</text><circle cx="5.67" cy="-2.5" r="2.5"/><text transform="translate(10.39 0) scale(1.02 1)">9</text></g>
<g transform="translate(1248.7 823.9)" style="font-weight:bold;font-size:63.95px"><text transform="translate(-18.24 0) scale(1.02 1)">6</text></g>
<path d="M1222.4 1047H1278.6"/><path class="h" d="M1210.4 1047l13 -7.3v14.6ZM1290.6 1047l-13 -7.3v14.6Z"/>
<g transform="translate(1249.5 1093.9)" style="font-weight:bold;font-size:31.25px"><path class="one" d="M-26.91 -21.5H-19.66V0H-24.05V-17.72H-26.91Z"/><text transform="translate(-17.67 0) scale(1.08 1)">0</text><circle cx="5.59" cy="-2.5" r="2.5"/><text transform="translate(10.31 0) scale(1.03 1)">2</text></g>
<use href="#s_almond" transform="translate(1343.1 856.6) scale(0.08170 0.14620)" fill="url(#gH)"/>
<use href="#s_almond" transform="translate(1343.1 856.6) scale(0.08170 0.14620)" fill="url(#gV)"/>
<path class="gl" d="M1374.1 865.4C1370.1 885.8 1367.6 912.2 1366.8 927.5C1370.9 915.1 1378.2 888.8 1380.7 865.4"/>
<circle class="sp" cx="1366.8" cy="952.4" r="1.5"/><circle class="sp" cx="1366" cy="959.7" r="1.8"/>
<path d="M1335.6 870.6V989.8"/><path class="h" d="M1335.6 858.6l7.3 13h-14.6ZM1335.6 1001.8l7.3 -13h-14.6Z"/>
<g transform="translate(1324.45 930.2) rotate(-90)" style="font-weight:bold;font-size:31.25px"><path class="one" d="M-26.98 -21.5H-19.74V0H-24.12V-17.72H-26.98Z"/><text transform="translate(-17.45 0) scale(1.05 1)">8</text><circle cx="5.67" cy="-2.5" r="2.5"/><text transform="translate(10.08 0) scale(1.06 1)">7</text></g>
<g transform="translate(1386.7 823.9)" style="font-weight:bold;font-size:63.95px"><text transform="translate(-18.74 0) scale(1.06 1)">7</text></g>
<path d="M1358.7 1047H1416.7"/><path class="h" d="M1346.7 1047l13 -7.3v14.6ZM1428.7 1047l-13 -7.3v14.6Z"/>
<g transform="translate(1387.6 1093.9)" style="font-weight:bold;font-size:31.25px"><text transform="translate(-22.43 0) scale(1.02 1)">9</text><circle cx="0" cy="-2.5" r="2.5"/><text transform="translate(4.73 0) scale(1.02 1)">9</text></g>
<use href="#s_almond" transform="translate(1480.6 855.7) scale(0.07930 0.14290)" fill="url(#gH)"/>
<use href="#s_almond" transform="translate(1480.6 855.7) scale(0.07930 0.14290)" fill="url(#gV)"/>
<path class="gl" d="M1510.7 864.3C1506.8 884.3 1504.4 910 1503.6 925C1507.6 912.9 1514.7 887.1 1517.1 864.3"/>
<circle class="sp" cx="1503.6" cy="949.3" r="1.4"/><circle class="sp" cx="1502.8" cy="956.4" r="1.7"/>
<path d="M1471.6 869.7V985.6"/><path class="h" d="M1471.6 857.7l7.3 13h-14.6ZM1471.6 997.6l7.3 -13h-14.6Z"/>
<g transform="translate(1459.55 927.65) rotate(-90)" style="font-weight:bold;font-size:31.25px"><path class="one" d="M-26.84 -21.5H-19.6V0H-23.98V-17.72H-26.84Z"/><text transform="translate(-17.31 0) scale(1.05 1)">8</text><circle cx="5.81" cy="-2.5" r="2.5"/><text transform="translate(10.94 0) scale(0.98 1)">3</text></g>
<g transform="translate(1524.8 823.9)" style="font-weight:bold;font-size:63.95px"><text transform="translate(-18.75 0) scale(1.05 1)">8</text></g>
<path d="M1493.2 1047H1550.9"/><path class="h" d="M1481.2 1047l13 -7.3v14.6ZM1562.9 1047l-13 -7.3v14.6Z"/>
<g transform="translate(1522.7 1093.9)" style="font-weight:bold;font-size:31.25px"><text transform="translate(-22.43 0) scale(1.02 1)">9</text><circle cx="0" cy="-2.5" r="2.5"/><text transform="translate(4.66 0) scale(1.02 1)">6</text></g>
<use href="#s_almond" transform="translate(1616.9 855.7) scale(0.07450 0.13900)" fill="url(#gH)"/>
<use href="#s_almond" transform="translate(1616.9 855.7) scale(0.07450 0.13900)" fill="url(#gV)"/>
<path class="gl" d="M1645.2 864C1641.5 883.5 1639.2 908.5 1638.5 923.1C1642.2 911.3 1648.9 886.3 1651.2 864"/>
<circle class="sp" cx="1638.5" cy="946.7" r="1.3"/><circle class="sp" cx="1637.8" cy="953.7" r="1.6"/>
<path d="M1607.9 869.7V981.7"/><path class="h" d="M1607.9 857.7l7.3 13h-14.6ZM1607.9 993.7l7.3 -13h-14.6Z"/>
<g transform="translate(1594.65 925.7) rotate(-90)" style="font-weight:bold;font-size:31.25px"><path class="one" d="M-27.5 -21.5H-20.25V0H-24.64V-17.72H-27.5Z"/><text transform="translate(-18.34 0) scale(1.06 1)">7</text><circle cx="4.4" cy="-2.5" r="2.5"/><text transform="translate(9.75 0) scale(1.03 1)">4</text></g>
<g transform="translate(1657.4 823.9)" style="font-weight:bold;font-size:63.95px"><text transform="translate(-18.11 0) scale(1.02 1)">9</text></g>
<path d="M1628.9 1047H1682.4"/><path class="h" d="M1616.9 1047l13 -7.3v14.6ZM1694.4 1047l-13 -7.3v14.6Z"/>
<g transform="translate(1655.3 1093.9)" style="font-weight:bold;font-size:31.25px"><text transform="translate(-18.31 0) scale(1.02 1)">9</text><circle cx="4.12" cy="-2.5" r="2.5"/><path class="one" d="M9.95 -21.5H17.2V0H12.81V-17.72H9.95Z"/></g>
<use href="#s_almond" transform="translate(1747.6 855) scale(0.07300 0.13370)" fill="url(#gH)"/>
<use href="#s_almond" transform="translate(1747.6 855) scale(0.07300 0.13370)" fill="url(#gV)"/>
<path class="gl" d="M1775.3 863C1771.7 881.7 1769.5 905.8 1768.8 919.8C1772.4 908.5 1779 884.4 1781.2 863"/>
<circle class="sp" cx="1768.8" cy="942.6" r="1.3"/><circle class="sp" cx="1768" cy="949.3" r="1.6"/>
<path d="M1737.4 869.5V975.7"/><path class="h" d="M1737.4 857.5l7.3 13h-14.6ZM1737.4 987.7l7.3 -13h-14.6Z"/>
<g transform="translate(1726.25 922.6) rotate(-90)" style="font-weight:bold;font-size:31.25px"><path class="one" d="M-26.98 -21.5H-19.74V0H-24.12V-17.72H-26.98Z"/><text transform="translate(-17.58 0) scale(1.02 1)">6</text><circle cx="4.91" cy="-2.5" r="2.5"/><text transform="translate(9.71 0) scale(1.05 1)">8</text></g>
<g transform="translate(1783 823.9)" style="font-weight:bold;font-size:63.95px"><path class="one" d="M-27.28 -44H-12.45V0H-21.43V-36.26H-27.28Z"/><text transform="translate(-8.37 0) scale(1.08 1)">0</text></g>
<path d="M1759 1047H1808.6"/><path class="h" d="M1747 1047l13 -7.3v14.6ZM1820.6 1047l-13 -7.3v14.6Z"/>
<g transform="translate(1783 1093.9)" style="font-weight:bold;font-size:31.25px"><text transform="translate(-23.11 0) scale(1.05 1)">8</text><circle cx="-0" cy="-2.5" r="2.5"/><text transform="translate(4.79 0) scale(1.05 1)">8</text></g>
<use href="#s_almond" transform="translate(1867.7 857.5) scale(0.06910 0.12970)" fill="url(#gH)"/>
<use href="#s_almond" transform="translate(1867.7 857.5) scale(0.06910 0.12970)" fill="url(#gV)"/>
<path class="gl" d="M1894 865.3C1890.5 883.4 1888.4 906.8 1887.7 920.4C1891.2 909.4 1897.4 886 1899.5 865.3"/>
<circle class="sp" cx="1887.7" cy="942.5" r="1.2"/><circle class="sp" cx="1887" cy="948.9" r="1.5"/>
<path d="M1861.7 871.5V974.2"/><path class="h" d="M1861.7 859.5l7.3 13h-14.6ZM1861.7 986.2l7.3 -13h-14.6Z"/>
<g transform="translate(1849.95 922.85) rotate(-90)" style="font-weight:bold;font-size:31.25px"><path class="one" d="M-26.47 -21.5H-19.22V0H-23.61V-17.72H-26.47Z"/><text transform="translate(-17.06 0) scale(1.02 1)">6</text><circle cx="5.43" cy="-2.5" r="2.5"/><text transform="translate(10.56 0) scale(0.98 1)">3</text></g>
<g transform="translate(1901.6 823.9)" style="font-weight:bold;font-size:63.95px"><path class="one" d="M-18.24 -44H-3.41V0H-12.39V-36.26H-18.24Z"/><path class="one" d="M3.41 -44H18.24V0H9.26V-36.26H3.41Z"/></g>
<path d="M1881.5 1047H1924.2"/><path class="h" d="M1869.5 1047l13 -7.3v14.6ZM1936.2 1047l-13 -7.3v14.6Z"/>
<g transform="translate(1905.5 1093.9)" style="font-weight:bold;font-size:31.25px"><text transform="translate(-22.6 0) scale(1.05 1)">8</text><circle cx="0.52" cy="-2.5" r="2.5"/><text transform="translate(5.65 0) scale(0.98 1)">3</text></g>
<use href="#s_almond" transform="translate(1987.8 857.5) scale(0.06610 0.12370)" fill="url(#gH)"/>
<use href="#s_almond" transform="translate(1987.8 857.5) scale(0.06610 0.12370)" fill="url(#gV)"/>
<path class="gl" d="M2012.9 864.9C2009.6 882.2 2007.6 904.5 2007 917.5C2010.3 907 2016.2 884.7 2018.2 864.9"/>
<circle class="sp" cx="2007" cy="938.5" r="1.2"/><circle class="sp" cx="2006.3" cy="944.7" r="1.5"/>
<path d="M1978.8 871.5V968.2"/><path class="h" d="M1978.8 859.5l7.3 13h-14.6ZM1978.8 980.2l7.3 -13h-14.6Z"/>
<g transform="translate(1967.95 919.85) rotate(-90)" style="font-weight:bold;font-size:31.25px"><path class="one" d="M-26.77 -21.5H-19.52V0H-23.91V-17.72H-26.77Z"/><text transform="translate(-17.12 0) scale(0.97 1)">5</text><circle cx="4.7" cy="-2.5" r="2.5"/><text transform="translate(9.49 0) scale(1.05 1)">8</text></g>
<g transform="translate(2019.6 823.9)" style="font-weight:bold;font-size:63.95px"><path class="one" d="M-26.66 -44H-11.84V0H-20.81V-36.26H-26.66Z"/><text transform="translate(-7.3 0) scale(1.03 1)">2</text></g>
<path d="M2000.7 1047H2039.8"/><path class="h" d="M1988.7 1047l13 -7.3v14.6ZM2051.8 1047l-13 -7.3v14.6Z"/>
<g transform="translate(2018.7 1093.9)" style="font-weight:bold;font-size:31.25px"><text transform="translate(-22.73 0) scale(1.06 1)">7</text><circle cx="0" cy="-2.5" r="2.5"/><text transform="translate(4.73 0) scale(1.02 1)">9</text></g>
<use href="#s_almond" transform="translate(2102.1 857) scale(0.06190 0.11450)" fill="url(#gH)"/>
<use href="#s_almond" transform="translate(2102.1 857) scale(0.06190 0.11450)" fill="url(#gV)"/>
<path class="gl" d="M2125.6 863.9C2122.5 879.9 2120.7 900.5 2120.1 912.5C2123.1 902.8 2128.7 882.2 2130.6 863.9"/>
<circle class="sp" cx="2120.1" cy="932" r="1.2"/><circle class="sp" cx="2119.4" cy="937.7" r="1.4"/>
<path d="M2094.7 871V958.5"/><path class="h" d="M2094.7 859l7.3 13h-14.6ZM2094.7 970.5l7.3 -13h-14.6Z"/>
<g transform="translate(2082.65 914.75) rotate(-90)" style="font-weight:bold;font-size:31.25px"><path class="one" d="M-27.5 -21.5H-20.25V0H-24.64V-17.72H-27.5Z"/><text transform="translate(-17.41 0) scale(1.03 1)">4</text><circle cx="6.18" cy="-2.5" r="2.5"/><text transform="translate(10.91 0) scale(1.02 1)">9</text></g>
<g transform="translate(2131.8 821.4)" style="font-weight:bold;font-size:63.95px"><path class="one" d="M-26.38 -44H-11.55V0H-20.53V-36.26H-26.38Z"/><text transform="translate(-6.17 0) scale(0.98 1)">3</text></g>
<path d="M2115.6 1047H2151.3"/><path class="h" d="M2103.6 1047l13 -7.3v14.6ZM2163.3 1047l-13 -7.3v14.6Z"/>
<g transform="translate(2133.6 1093.9)" style="font-weight:bold;font-size:31.25px"><text transform="translate(-22.6 0) scale(1.06 1)">7</text><circle cx="0.14" cy="-2.5" r="2.5"/><text transform="translate(5.28 0) scale(0.98 1)">3</text></g>
<use href="#s_almond" transform="translate(2209 857) scale(0.05700 0.11100)" fill="url(#gH)"/>
<use href="#s_almond" transform="translate(2209 857) scale(0.05700 0.11100)" fill="url(#gV)"/>
<path class="gl" d="M2230.7 863.7C2227.8 879.2 2226.1 899.2 2225.5 910.8C2228.4 901.4 2233.5 881.4 2235.2 863.7"/>
<circle class="sp" cx="2225.5" cy="929.7" r="1.2"/><circle class="sp" cx="2225" cy="935.3" r="1.3"/>
<path d="M2200.4 871V955"/><path class="h" d="M2200.4 859l7.3 13h-14.6ZM2200.4 967l7.3 -13h-14.6Z"/>
<g transform="translate(2190.05 913) rotate(-90)" style="font-weight:bold;font-size:31.25px"><path class="one" d="M-23.38 -21.5H-16.14V0H-20.52V-17.72H-23.38Z"/><text transform="translate(-13.29 0) scale(1.03 1)">4</text><circle cx="10.3" cy="-2.5" r="2.5"/><path class="one" d="M16.14 -21.5H23.38V0H19V-17.72H16.14Z"/></g>
<g transform="translate(2234 823.9)" style="font-weight:bold;font-size:63.95px"><path class="one" d="M-28.49 -44H-13.66V0H-22.64V-36.26H-28.49Z"/><text transform="translate(-7.84 0) scale(1.03 1)">4</text></g>
<path d="M2223 1047H2252.5"/><path class="h" d="M2211 1047l13 -7.3v14.6ZM2264.5 1047l-13 -7.3v14.6Z"/>
<g transform="translate(2235.6 1093.9)" style="font-weight:bold;font-size:31.25px"><text transform="translate(-9.16 0) scale(1.06 1)">7</text></g>
<use href="#s_almond" transform="translate(2320.5 856) scale(0.07710 0.14090)" fill="url(#gH)"/>
<use href="#s_almond" transform="translate(2320.5 856) scale(0.07710 0.14090)" fill="url(#gV)"/>
<path class="gl" d="M2349.8 864.5C2345.9 884.2 2343.6 909.5 2342.9 924.3C2346.7 912.4 2353.7 887 2356 864.5"/>
<circle class="sp" cx="2342.9" cy="948.3" r="1.4"/><circle class="sp" cx="2342.1" cy="955.3" r="1.7"/>
<path d="M2310 870V983.9"/><path class="h" d="M2310 858l7.3 13h-14.6ZM2310 995.9l7.3 -13h-14.6Z"/>
<g transform="translate(2293.85 926.95) rotate(-90)" style="font-weight:bold;font-size:31.25px"><path class="one" d="M-26.98 -21.5H-19.74V0H-24.12V-17.72H-26.98Z"/><text transform="translate(-17.82 0) scale(1.06 1)">7</text><circle cx="4.91" cy="-2.5" r="2.5"/><text transform="translate(9.71 0) scale(1.05 1)">8</text></g>
<g transform="translate(2357.8 823.9)" style="font-weight:bold;font-size:63.95px"><path class="one" d="M-26.22 -44H-11.4V0H-20.37V-36.26H-26.22Z"/><text transform="translate(-6.48 0) scale(0.97 1)">5</text></g>
<path d="M2332.9 1047H2392.9"/><path class="h" d="M2320.9 1047l13 -7.3v14.6ZM2404.9 1047l-13 -7.3v14.6Z"/>
<g transform="translate(2363.9 1093.9)" style="font-weight:bold;font-size:31.25px"><text transform="translate(-23.32 0) scale(1.02 1)">9</text><circle cx="-0.89" cy="-2.5" r="2.5"/><text transform="translate(4.46 0) scale(1.03 1)">4</text></g>
<text transform="translate(133.1 0) rotate(-90) translate(-1430.66 0) scale(0.83 1)" style="font-weight:bold;font-size:48.7px">S</text>
<text transform="translate(133.1 0) rotate(-90) translate(-1398.88 0) scale(0.99 1)" style="font-weight:bold;font-size:48.7px">Q</text>
<text transform="translate(133.1 0) rotate(-90) translate(-1356.6 0) scale(0.89 1)" style="font-weight:bold;font-size:48.7px">U</text>
<text transform="translate(133.1 0) rotate(-90) translate(-1319.74 0) scale(0.94 1)" style="font-weight:bold;font-size:48.7px">A</text>
<text transform="translate(133.1 0) rotate(-90) translate(-1281.06 0) scale(0.75 1)" style="font-weight:bold;font-size:48.7px">R</text>
<text transform="translate(133.1 0) rotate(-90) translate(-1246.44 0) scale(0.72 1)" style="font-weight:bold;font-size:48.7px">E</text>
<use href="#s_square" transform="translate(235.5 1255.6) scale(0.11910 0.16720)" fill="url(#gH)"/>
<use href="#s_square" transform="translate(235.5 1255.6) scale(0.11910 0.16720)" fill="url(#gV)"/>
<path class="gl" d="M280.8 1258.9C274.8 1289 271.2 1319.1 270 1336.7C276 1322.5 286.7 1292.4 290.3 1258.9"/>
<circle class="sp" cx="270" cy="1365.1" r="2.1"/><circle class="sp" cx="268.8" cy="1373.5" r="2.6"/>
<path d="M208.4 1268V1409.8"/><path class="h" d="M208.4 1256l7.3 13h-14.6ZM208.4 1421.8l7.3 -13h-14.6Z"/>
<g transform="translate(192.75 1338.9) rotate(-90)" style="font-weight:bold;font-size:31.25px"><text transform="translate(-32.14 0) scale(1.03 1)">2</text><text transform="translate(-13.55 0) scale(1.08 1)">0</text><circle cx="9.71" cy="-2.5" r="2.5"/><text transform="translate(14.43 0) scale(1.03 1)">2</text></g>
<g transform="translate(294.6 1220)" style="font-weight:bold;font-size:63.95px"><text transform="translate(-19.19 0) scale(1.08 1)">0</text></g>
<path d="M248.7 1442.8H343.5"/><path class="h" d="M236.7 1442.8l13 -7.3v14.6ZM355.5 1442.8l-13 -7.3v14.6Z"/>
<g transform="translate(296.1 1489.9)" style="font-weight:bold;font-size:31.25px"><path class="one" d="M-27.5 -21.5H-20.25V0H-24.64V-17.72H-27.5Z"/><text transform="translate(-17.41 0) scale(1.03 1)">4</text><circle cx="6.18" cy="-2.5" r="2.5"/><text transform="translate(10.6 0) scale(1.06 1)">7</text></g>
<use href="#s_square" transform="translate(416.2 1255.6) scale(0.11470 0.15460)" fill="url(#gH)"/>
<use href="#s_square" transform="translate(416.2 1255.6) scale(0.11470 0.15460)" fill="url(#gV)"/>
<path class="gl" d="M459.8 1258.7C454.1 1286.5 450.6 1314.3 449.5 1330.6C455.2 1317.4 465.5 1289.6 469 1258.7"/>
<circle class="sp" cx="449.5" cy="1356.9" r="2.1"/><circle class="sp" cx="448.3" cy="1364.6" r="2.5"/>
<path d="M403.6 1268V1397.2"/><path class="h" d="M403.6 1256l7.3 13h-14.6ZM403.6 1409.2l7.3 -13h-14.6Z"/>
<g transform="translate(387.95 1332.6) rotate(-90)" style="font-weight:bold;font-size:31.25px"><path class="one" d="M-26.98 -21.5H-19.74V0H-24.12V-17.72H-26.98Z"/><text transform="translate(-17.45 0) scale(1.05 1)">8</text><circle cx="5.67" cy="-2.5" r="2.5"/><text transform="translate(10.39 0) scale(1.02 1)">9</text></g>
<g transform="translate(476.2 1220)" style="font-weight:bold;font-size:63.95px"><path class="one" d="M-7.41 -44H7.41V0H-1.56V-36.26H-7.41Z"/></g>
<path d="M430.6 1442.8H514.7"/><path class="h" d="M418.6 1442.8l13 -7.3v14.6ZM526.7 1442.8l-13 -7.3v14.6Z"/>
<g transform="translate(471.7 1489.9)" style="font-weight:bold;font-size:31.25px"><path class="one" d="M-26.25 -21.5H-19.01V0H-23.39V-17.72H-26.25Z"/><text transform="translate(-16.38 0) scale(0.98 1)">3</text><circle cx="5.36" cy="-2.5" r="2.5"/><text transform="translate(10.27 0) scale(0.97 1)">5</text></g>
<use href="#s_square" transform="translate(590.9 1256.5) scale(0.10450 0.15010)" fill="url(#gH)"/>
<use href="#s_square" transform="translate(590.9 1256.5) scale(0.10450 0.15010)" fill="url(#gV)"/>
<path class="gl" d="M630.6 1259.5C625.4 1286.5 622.2 1313.5 621.2 1329.3C626.4 1316.5 635.8 1289.5 639 1259.5"/>
<circle class="sp" cx="621.2" cy="1354.8" r="1.9"/><circle class="sp" cx="620.2" cy="1362.3" r="2.3"/>
<path d="M578.9 1268V1393.6"/><path class="h" d="M578.9 1256l7.3 13h-14.6ZM578.9 1405.6l7.3 -13h-14.6Z"/>
<g transform="translate(563.55 1330.8) rotate(-90)" style="font-weight:bold;font-size:31.25px"><path class="one" d="M-13.41 -21.5H-6.16V0H-10.55V-17.72H-13.41Z"/><text transform="translate(-3.87 0) scale(1.05 1)">8</text></g>
<g transform="translate(644.3 1220)" style="font-weight:bold;font-size:63.95px"><text transform="translate(-18.12 0) scale(1.03 1)">2</text></g>
<path d="M603.8 1442.8H682.8"/><path class="h" d="M591.8 1442.8l13 -7.3v14.6ZM694.8 1442.8l-13 -7.3v14.6Z"/>
<g transform="translate(644.3 1489.9)" style="font-weight:bold;font-size:31.25px"><path class="one" d="M-26.61 -21.5H-19.36V0H-23.75V-17.72H-26.61Z"/><text transform="translate(-17.14 0) scale(1.03 1)">2</text><circle cx="5.29" cy="-2.5" r="2.5"/><text transform="translate(9.71 0) scale(1.06 1)">7</text></g>
<use href="#s_square" transform="translate(751.6 1255.6) scale(0.09610 0.14320)" fill="url(#gH)"/>
<use href="#s_square" transform="translate(751.6 1255.6) scale(0.09610 0.14320)" fill="url(#gV)"/>
<path class="gl" d="M788.1 1258.5C783.3 1284.2 780.4 1310 779.5 1325.1C784.3 1312.9 792.9 1287.1 795.8 1258.5"/>
<circle class="sp" cx="779.5" cy="1349.4" r="1.7"/><circle class="sp" cx="778.5" cy="1356.6" r="2.1"/>
<path d="M741.4 1268V1385.8"/><path class="h" d="M741.4 1256l7.3 13h-14.6ZM741.4 1397.8l7.3 -13h-14.6Z"/>
<g transform="translate(725.75 1326.9) rotate(-90)" style="font-weight:bold;font-size:31.25px"><path class="one" d="M-27.5 -21.5H-20.25V0H-24.64V-17.72H-27.5Z"/><text transform="translate(-18.34 0) scale(1.06 1)">7</text><circle cx="4.4" cy="-2.5" r="2.5"/><text transform="translate(9.75 0) scale(1.03 1)">4</text></g>
<g transform="translate(798.5 1220)" style="font-weight:bold;font-size:63.95px"><text transform="translate(-16.99 0) scale(0.98 1)">3</text></g>
<path d="M764.5 1442.8H836.6"/><path class="h" d="M752.5 1442.8l13 -7.3v14.6ZM848.6 1442.8l-13 -7.3v14.6Z"/>
<g transform="translate(800.6 1489.9)" style="font-weight:bold;font-size:31.25px"><path class="one" d="M-22.49 -21.5H-15.24V0H-19.63V-17.72H-22.49Z"/><path class="one" d="M-11.91 -21.5H-4.67V0H-9.05V-17.72H-11.91Z"/><circle cx="1.17" cy="-2.5" r="2.5"/><text transform="translate(5.9 0) scale(1.02 1)">9</text></g>
<use href="#s_square" transform="translate(912.5 1256.5) scale(0.08770 0.15010)" fill="url(#gH)"/>
<use href="#s_square" transform="translate(912.5 1256.5) scale(0.08770 0.15010)" fill="url(#gV)"/>
<path class="gl" d="M945.8 1259.5C941.4 1286.5 938.8 1313.5 937.9 1329.3C942.3 1316.5 950.2 1289.5 952.8 1259.5"/>
<circle class="sp" cx="937.9" cy="1354.8" r="1.6"/><circle class="sp" cx="937.1" cy="1362.3" r="1.9"/>
<path d="M896.6 1268V1393.6"/><path class="h" d="M896.6 1256l7.3 13h-14.6ZM896.6 1405.6l7.3 -13h-14.6Z"/>
<g transform="translate(881.25 1330.8) rotate(-90)" style="font-weight:bold;font-size:31.25px"><path class="one" d="M-26.98 -21.5H-19.74V0H-24.12V-17.72H-26.98Z"/><text transform="translate(-17.45 0) scale(1.05 1)">8</text><circle cx="5.67" cy="-2.5" r="2.5"/><text transform="translate(10.39 0) scale(1.03 1)">2</text></g>
<g transform="translate(958.8 1220)" style="font-weight:bold;font-size:63.95px"><text transform="translate(-18.66 0) scale(1.03 1)">4</text></g>
<path d="M921.5 1442.8H988.8"/><path class="h" d="M909.5 1442.8l13 -7.3v14.6ZM1000.8 1442.8l-13 -7.3v14.6Z"/>
<g transform="translate(956.7 1489.9)" style="font-weight:bold;font-size:31.25px"><path class="one" d="M-26.91 -21.5H-19.66V0H-24.05V-17.72H-26.91Z"/><text transform="translate(-17.67 0) scale(1.08 1)">0</text><circle cx="5.59" cy="-2.5" r="2.5"/><text transform="translate(10.32 0) scale(1.02 1)">9</text></g>
<use href="#s_square" transform="translate(1058.7 1257) scale(0.08500 0.14360)" fill="url(#gH)"/>
<use href="#s_square" transform="translate(1058.7 1257) scale(0.08500 0.14360)" fill="url(#gV)"/>
<path class="gl" d="M1091 1259.9C1086.8 1285.7 1084.2 1311.6 1083.4 1326.6C1087.6 1314.4 1095.2 1288.6 1097.8 1259.9"/>
<circle class="sp" cx="1083.4" cy="1351.1" r="1.5"/><circle class="sp" cx="1082.5" cy="1358.2" r="1.9"/>
<path d="M1048.2 1268V1387.6"/><path class="h" d="M1048.2 1256l7.3 13h-14.6ZM1048.2 1399.6l7.3 -13h-14.6Z"/>
<g transform="translate(1033.45 1327.8) rotate(-90)" style="font-weight:bold;font-size:31.25px"><path class="one" d="M-26.98 -21.5H-19.74V0H-24.12V-17.72H-26.98Z"/><text transform="translate(-17.82 0) scale(1.06 1)">7</text><circle cx="4.91" cy="-2.5" r="2.5"/><text transform="translate(9.71 0) scale(1.05 1)">8</text></g>
<g transform="translate(1102.3 1220)" style="font-weight:bold;font-size:63.95px"><text transform="translate(-17.3 0) scale(0.97 1)">5</text></g>
<path d="M1069.2 1442.8H1136.8"/><path class="h" d="M1057.2 1442.8l13 -7.3v14.6ZM1148.8 1442.8l-13 -7.3v14.6Z"/>
<g transform="translate(1103.2 1489.9)" style="font-weight:bold;font-size:31.25px"><path class="one" d="M-26.69 -21.5H-19.45V0H-23.83V-17.72H-26.69Z"/><text transform="translate(-17.45 0) scale(1.08 1)">0</text><circle cx="5.81" cy="-2.5" r="2.5"/><text transform="translate(10.71 0) scale(0.97 1)">5</text></g>
<use href="#s_square" transform="translate(1205 1257) scale(0.08260 0.14180)" fill="url(#gH)"/>
<use href="#s_square" transform="translate(1205 1257) scale(0.08260 0.14180)" fill="url(#gV)"/>
<path class="gl" d="M1236.4 1259.8C1232.3 1285.4 1229.8 1310.9 1229 1325.8C1233.1 1313.7 1240.5 1288.2 1243 1259.8"/>
<circle class="sp" cx="1229" cy="1349.9" r="1.5"/><circle class="sp" cx="1228.1" cy="1357" r="1.8"/>
<path d="M1192.4 1268V1385.8"/><path class="h" d="M1192.4 1256l7.3 13h-14.6ZM1192.4 1397.8l7.3 -13h-14.6Z"/>
<g transform="translate(1181.25 1326.9) rotate(-90)" style="font-weight:bold;font-size:31.25px"><path class="one" d="M-27.5 -21.5H-20.25V0H-24.64V-17.72H-27.5Z"/><text transform="translate(-18.34 0) scale(1.06 1)">7</text><circle cx="4.4" cy="-2.5" r="2.5"/><text transform="translate(9.75 0) scale(1.03 1)">4</text></g>
<g transform="translate(1244.8 1220)" style="font-weight:bold;font-size:63.95px"><text transform="translate(-18.24 0) scale(1.02 1)">6</text></g>
<path d="M1213.4 1442.8H1277"/><path class="h" d="M1201.4 1442.8l13 -7.3v14.6ZM1289 1442.8l-13 -7.3v14.6Z"/>
<g transform="translate(1245.3 1489.9)" style="font-weight:bold;font-size:31.25px"><path class="one" d="M-26.77 -21.5H-19.52V0H-23.91V-17.72H-26.77Z"/><text transform="translate(-17.53 0) scale(1.08 1)">0</text><circle cx="5.73" cy="-2.5" r="2.5"/><text transform="translate(10.87 0) scale(0.98 1)">3</text></g>
<use href="#s_square" transform="translate(1348.5 1257) scale(0.07810 0.13820)" fill="url(#gH)"/>
<use href="#s_square" transform="translate(1348.5 1257) scale(0.07810 0.13820)" fill="url(#gV)"/>
<path class="gl" d="M1378.2 1259.8C1374.3 1284.6 1371.9 1309.5 1371.1 1324C1375.1 1312.3 1382.1 1287.4 1384.4 1259.8"/>
<circle class="sp" cx="1371.1" cy="1347.5" r="1.4"/><circle class="sp" cx="1370.4" cy="1354.4" r="1.7"/>
<path d="M1331.7 1268V1382.2"/><path class="h" d="M1331.7 1256l7.3 13h-14.6ZM1331.7 1394.2l7.3 -13h-14.6Z"/>
<g transform="translate(1320.85 1325.1) rotate(-90)" style="font-weight:bold;font-size:31.25px"><path class="one" d="M-26.61 -21.5H-19.36V0H-23.75V-17.72H-26.61Z"/><text transform="translate(-17.2 0) scale(1.02 1)">6</text><circle cx="5.29" cy="-2.5" r="2.5"/><text transform="translate(10.02 0) scale(1.02 1)">9</text></g>
<g transform="translate(1382.8 1220)" style="font-weight:bold;font-size:63.95px"><text transform="translate(-18.74 0) scale(1.06 1)">7</text></g>
<path d="M1351.5 1442.8H1414.6"/><path class="h" d="M1339.5 1442.8l13 -7.3v14.6ZM1426.6 1442.8l-13 -7.3v14.6Z"/>
<g transform="translate(1383.7 1489.9)" style="font-weight:bold;font-size:31.25px"><text transform="translate(-22.8 0) scale(1.02 1)">9</text><circle cx="-0.38" cy="-2.5" r="2.5"/><text transform="translate(4.42 0) scale(1.05 1)">8</text></g>
<use href="#s_square" transform="translate(1482.7 1256.5) scale(0.07510 0.13570)" fill="url(#gH)"/>
<use href="#s_square" transform="translate(1482.7 1256.5) scale(0.07510 0.13570)" fill="url(#gV)"/>
<path class="gl" d="M1511.2 1259.2C1507.5 1283.6 1505.2 1308.1 1504.5 1322.3C1508.2 1310.8 1515 1286.4 1517.2 1259.2"/>
<circle class="sp" cx="1504.5" cy="1345.4" r="1.4"/><circle class="sp" cx="1503.7" cy="1352.2" r="1.7"/>
<path d="M1467.7 1268V1379.2"/><path class="h" d="M1467.7 1256l7.3 13h-14.6ZM1467.7 1391.2l7.3 -13h-14.6Z"/>
<g transform="translate(1456.55 1323.6) rotate(-90)" style="font-weight:bold;font-size:31.25px"><path class="one" d="M-26.39 -21.5H-19.15V0H-23.53V-17.72H-26.39Z"/><text transform="translate(-16.99 0) scale(1.02 1)">6</text><circle cx="5.5" cy="-2.5" r="2.5"/><text transform="translate(10.41 0) scale(0.97 1)">5</text></g>
<g transform="translate(1521.8 1220)" style="font-weight:bold;font-size:63.95px"><text transform="translate(-18.75 0) scale(1.05 1)">8</text></g>
<path d="M1490.2 1442.8H1546.7"/><path class="h" d="M1478.2 1442.8l13 -7.3v14.6ZM1558.7 1442.8l-13 -7.3v14.6Z"/>
<g transform="translate(1518.8 1489.9)" style="font-weight:bold;font-size:31.25px"><text transform="translate(-22.29 0) scale(1.02 1)">9</text><circle cx="0.14" cy="-2.5" r="2.5"/><text transform="translate(5.28 0) scale(0.98 1)">3</text></g>
<use href="#s_square" transform="translate(1617.8 1257) scale(0.07000 0.12980)" fill="url(#gH)"/>
<use href="#s_square" transform="translate(1617.8 1257) scale(0.07000 0.12980)" fill="url(#gV)"/>
<path class="gl" d="M1644.4 1259.6C1640.9 1283 1638.8 1306.3 1638.1 1320C1641.6 1308.9 1647.9 1285.6 1650 1259.6"/>
<circle class="sp" cx="1638.1" cy="1342" r="1.3"/><circle class="sp" cx="1637.4" cy="1348.5" r="1.5"/>
<path d="M1603.7 1268V1373.8"/><path class="h" d="M1603.7 1256l7.3 13h-14.6ZM1603.7 1385.8l7.3 -13h-14.6Z"/>
<g transform="translate(1592.55 1320.9) rotate(-90)" style="font-weight:bold;font-size:31.25px"><path class="one" d="M-26.39 -21.5H-19.15V0H-23.53V-17.72H-26.39Z"/><text transform="translate(-16.74 0) scale(0.97 1)">5</text><circle cx="5.07" cy="-2.5" r="2.5"/><text transform="translate(9.49 0) scale(1.06 1)">7</text></g>
<g transform="translate(1653.8 1220)" style="font-weight:bold;font-size:63.95px"><text transform="translate(-18.11 0) scale(1.02 1)">9</text></g>
<path d="M1625.9 1442.8H1678.8"/><path class="h" d="M1613.9 1442.8l13 -7.3v14.6ZM1690.8 1442.8l-13 -7.3v14.6Z"/>
<g transform="translate(1652.3 1489.9)" style="font-weight:bold;font-size:31.25px"><text transform="translate(-22.74 0) scale(1.05 1)">8</text><circle cx="0.38" cy="-2.5" r="2.5"/><text transform="translate(4.8 0) scale(1.06 1)">7</text></g>
<use href="#s_square" transform="translate(1747 1255.6) scale(0.06670 0.12100)" fill="url(#gH)"/>
<use href="#s_square" transform="translate(1747 1255.6) scale(0.06670 0.12100)" fill="url(#gV)"/>
<path class="gl" d="M1772.3 1258C1769 1279.8 1767 1301.6 1766.3 1314.3C1769.7 1304 1775.7 1282.2 1777.7 1258"/>
<circle class="sp" cx="1766.3" cy="1334.9" r="1.2"/><circle class="sp" cx="1765.7" cy="1340.9" r="1.5"/>
<path d="M1733.5 1268V1363.6"/><path class="h" d="M1733.5 1256l7.3 13h-14.6ZM1733.5 1375.6l7.3 -13h-14.6Z"/>
<g transform="translate(1721.15 1315.8) rotate(-90)" style="font-weight:bold;font-size:31.25px"><path class="one" d="M-12.81 -21.5H-5.57V0H-9.95V-17.72H-12.81Z"/><text transform="translate(-3.17 0) scale(0.97 1)">5</text></g>
<g transform="translate(1779.5 1220)" style="font-weight:bold;font-size:63.95px"><path class="one" d="M-27.28 -44H-12.45V0H-21.43V-36.26H-27.28Z"/><text transform="translate(-8.37 0) scale(1.08 1)">0</text></g>
<path d="M1755.4 1442.8H1804.7"/><path class="h" d="M1743.4 1442.8l13 -7.3v14.6ZM1816.7 1442.8l-13 -7.3v14.6Z"/>
<g transform="translate(1779.5 1489.9)" style="font-weight:bold;font-size:31.25px"><text transform="translate(-23.63 0) scale(1.05 1)">8</text><circle cx="-0.52" cy="-2.5" r="2.5"/><text transform="translate(4.83 0) scale(1.03 1)">4</text></g>
<use href="#s_square" transform="translate(1869.5 1256.5) scale(0.06370 0.11530)" fill="url(#gH)"/>
<use href="#s_square" transform="translate(1869.5 1256.5) scale(0.06370 0.11530)" fill="url(#gV)"/>
<path class="gl" d="M1893.7 1258.8C1890.5 1279.6 1888.6 1300.3 1888 1312.4C1891.2 1302.6 1896.9 1281.9 1898.8 1258.8"/>
<circle class="sp" cx="1888" cy="1332" r="1.2"/><circle class="sp" cx="1887.3" cy="1337.8" r="1.4"/>
<path d="M1857.5 1268V1358.8"/><path class="h" d="M1857.5 1256l7.3 13h-14.6ZM1857.5 1370.8l7.3 -13h-14.6Z"/>
<g transform="translate(1846.35 1313.4) rotate(-90)" style="font-weight:bold;font-size:31.25px"><path class="one" d="M-27.5 -21.5H-20.25V0H-24.64V-17.72H-27.5Z"/><text transform="translate(-17.41 0) scale(1.03 1)">4</text><circle cx="6.18" cy="-2.5" r="2.5"/><text transform="translate(10.9 0) scale(1.03 1)">2</text></g>
<g transform="translate(1897.7 1220)" style="font-weight:bold;font-size:63.95px"><path class="one" d="M-18.24 -44H-3.41V0H-12.39V-36.26H-18.24Z"/><path class="one" d="M3.41 -44H18.24V0H9.26V-36.26H3.41Z"/></g>
<path d="M1877.6 1442.8H1920.6"/><path class="h" d="M1865.6 1442.8l13 -7.3v14.6ZM1932.6 1442.8l-13 -7.3v14.6Z"/>
<g transform="translate(1901.6 1489.9)" style="font-weight:bold;font-size:31.25px"><text transform="translate(-9.16 0) scale(1.05 1)">8</text></g>
<use href="#s_square" transform="translate(1991.7 1255.6) scale(0.05850 0.11110)" fill="url(#gH)"/>
<use href="#s_square" transform="translate(1991.7 1255.6) scale(0.05850 0.11110)" fill="url(#gV)"/>
<path class="gl" d="M2013.9 1257.8C2011 1277.8 2009.2 1297.8 2008.7 1309.5C2011.6 1300 2016.9 1280 2018.6 1257.8"/>
<circle class="sp" cx="2008.7" cy="1328.4" r="1.2"/><circle class="sp" cx="2008.1" cy="1333.9" r="1.3"/>
<path d="M1975.2 1268V1353.7"/><path class="h" d="M1975.2 1256l7.3 13h-14.6ZM1975.2 1365.7l7.3 -13h-14.6Z"/>
<g transform="translate(1963.45 1310.85) rotate(-90)" style="font-weight:bold;font-size:31.25px"><path class="one" d="M-27.36 -21.5H-20.11V0H-24.5V-17.72H-27.36Z"/><text transform="translate(-17.48 0) scale(0.98 1)">3</text><circle cx="4.26" cy="-2.5" r="2.5"/><text transform="translate(9.61 0) scale(1.03 1)">4</text></g>
<g transform="translate(2015.7 1220)" style="font-weight:bold;font-size:63.95px"><path class="one" d="M-26.66 -44H-11.84V0H-20.81V-36.26H-26.66Z"/><text transform="translate(-7.3 0) scale(1.03 1)">2</text></g>
<path d="M1997.7 1442.8H2035.9"/><path class="h" d="M1985.7 1442.8l13 -7.3v14.6ZM2047.9 1442.8l-13 -7.3v14.6Z"/>
<g transform="translate(2015.7 1489.9)" style="font-weight:bold;font-size:31.25px"><text transform="translate(-23.63 0) scale(1.06 1)">7</text><circle cx="-0.89" cy="-2.5" r="2.5"/><text transform="translate(4.46 0) scale(1.03 1)">4</text></g>
<use href="#s_square" transform="translate(2100 1256) scale(0.05800 0.10260)" fill="url(#gH)"/>
<use href="#s_square" transform="translate(2100 1256) scale(0.05800 0.10260)" fill="url(#gV)"/>
<path class="gl" d="M2122 1258.1C2119.1 1276.5 2117.4 1295 2116.8 1305.8C2119.7 1297 2124.9 1278.6 2126.7 1258.1"/>
<circle class="sp" cx="2116.8" cy="1323.2" r="1.2"/><circle class="sp" cx="2116.2" cy="1328.3" r="1.3"/>
<path d="M2090.8 1268V1345.6"/><path class="h" d="M2090.8 1256l7.3 13h-14.6ZM2090.8 1357.6l7.3 -13h-14.6Z"/>
<g transform="translate(2079.65 1306.8) rotate(-90)" style="font-weight:bold;font-size:31.25px"><path class="one" d="M-26.98 -21.5H-19.74V0H-24.12V-17.72H-26.98Z"/><text transform="translate(-17.52 0) scale(1.03 1)">2</text><circle cx="4.91" cy="-2.5" r="2.5"/><text transform="translate(9.71 0) scale(1.05 1)">8</text></g>
<g transform="translate(2128.5 1217.5)" style="font-weight:bold;font-size:63.95px"><path class="one" d="M-26.38 -44H-11.55V0H-20.53V-36.26H-26.38Z"/><text transform="translate(-6.17 0) scale(0.98 1)">3</text></g>
<path d="M2111.9 1442.8H2147.5"/><path class="h" d="M2099.9 1442.8l13 -7.3v14.6ZM2159.5 1442.8l-13 -7.3v14.6Z"/>
<g transform="translate(2129.8 1489.9)" style="font-weight:bold;font-size:31.25px"><text transform="translate(-18.62 0) scale(1.06 1)">7</text><circle cx="4.12" cy="-2.5" r="2.5"/><path class="one" d="M9.95 -21.5H17.2V0H12.81V-17.72H9.95Z"/></g>
<use href="#s_square" transform="translate(2207.5 1257) scale(0.05400 0.09800)" fill="url(#gH)"/>
<use href="#s_square" transform="translate(2207.5 1257) scale(0.05400 0.09800)" fill="url(#gV)"/>
<path class="gl" d="M2228 1259C2225.3 1276.6 2223.7 1294.2 2223.2 1304.5C2225.9 1296.2 2230.7 1278.6 2232.3 1259"/>
<circle class="sp" cx="2223.2" cy="1321.2" r="1.2"/><circle class="sp" cx="2222.6" cy="1326.1" r="1.2"/>
<path d="M2196.5 1268V1342"/><path class="h" d="M2196.5 1256l7.3 13h-14.6ZM2196.5 1354l7.3 -13h-14.6Z"/>
<g transform="translate(2188.55 1305) rotate(-90)" style="font-weight:bold;font-size:31.25px"><path class="one" d="M-22.49 -21.5H-15.24V0H-19.63V-17.72H-22.49Z"/><text transform="translate(-13.03 0) scale(1.03 1)">2</text><circle cx="9.41" cy="-2.5" r="2.5"/><path class="one" d="M15.24 -21.5H22.49V0H18.1V-17.72H15.24Z"/></g>
<g transform="translate(2230.5 1220)" style="font-weight:bold;font-size:63.95px"><path class="one" d="M-28.49 -44H-13.66V0H-22.64V-36.26H-28.49Z"/><text transform="translate(-7.84 0) scale(1.03 1)">4</text></g>
<path d="M2219 1442.8H2248.7"/><path class="h" d="M2207 1442.8l13 -7.3v14.6ZM2260.7 1442.8l-13 -7.3v14.6Z"/>
<g transform="translate(2233.5 1489.9)" style="font-weight:bold;font-size:31.25px"><text transform="translate(-22.49 0) scale(1.02 1)">6</text><circle cx="0" cy="-2.5" r="2.5"/><text transform="translate(4.42 0) scale(1.06 1)">7</text></g>
<use href="#s_square" transform="translate(2322.5 1255.6) scale(0.07430 0.13160)" fill="url(#gH)"/>
<use href="#s_square" transform="translate(2322.5 1255.6) scale(0.07430 0.13160)" fill="url(#gV)"/>
<path class="gl" d="M2350.7 1258.2C2347 1281.9 2344.8 1305.6 2344 1319.4C2347.8 1308.2 2354.4 1284.6 2356.7 1258.2"/>
<circle class="sp" cx="2344" cy="1341.8" r="1.3"/><circle class="sp" cx="2343.3" cy="1348.4" r="1.6"/>
<path d="M2306 1268V1374.2"/><path class="h" d="M2306 1256l7.3 13h-14.6ZM2306 1386.2l7.3 -13h-14.6Z"/>
<g transform="translate(2296.55 1321.1) rotate(-90)" style="font-weight:bold;font-size:31.25px"><path class="one" d="M-26.39 -21.5H-19.15V0H-23.53V-17.72H-26.39Z"/><text transform="translate(-16.99 0) scale(1.02 1)">6</text><circle cx="5.5" cy="-2.5" r="2.5"/><text transform="translate(10.41 0) scale(0.97 1)">5</text></g>
<g transform="translate(2354.4 1220)" style="font-weight:bold;font-size:63.95px"><path class="one" d="M-26.22 -44H-11.4V0H-20.37V-36.26H-26.22Z"/><text transform="translate(-6.48 0) scale(0.97 1)">5</text></g>
<path d="M2329.5 1442.8H2388.8"/><path class="h" d="M2317.5 1442.8l13 -7.3v14.6ZM2400.8 1442.8l-13 -7.3v14.6Z"/>
<g transform="translate(2359.8 1489.9)" style="font-weight:bold;font-size:31.25px"><text transform="translate(-22.29 0) scale(1.02 1)">9</text><circle cx="0.14" cy="-2.5" r="2.5"/><text transform="translate(5.28 0) scale(0.98 1)">3</text></g>
<text transform="translate(133.1 0) rotate(-90) translate(-1842.65 0) scale(0.82 1)" style="font-weight:bold;font-size:48.7px">S</text>
<text transform="translate(133.1 0) rotate(-90) translate(-1810.26 0) scale(0.98 1)" style="font-weight:bold;font-size:48.7px">Q</text>
<text transform="translate(133.1 0) rotate(-90) translate(-1768.08 0) scale(0.88 1)" style="font-weight:bold;font-size:48.7px">U</text>
<text transform="translate(133.1 0) rotate(-90) translate(-1731.98 0) scale(0.99 1)" style="font-weight:bold;font-size:48.7px">O</text>
<text transform="translate(133.1 0) rotate(-90) translate(-1689.42 0) scale(0.97 1)" style="font-weight:bold;font-size:48.7px">V</text>
<text transform="translate(133.1 0) rotate(-90) translate(-1652.03 0) scale(0.93 1)" style="font-weight:bold;font-size:48.7px">A</text>
<text transform="translate(133.1 0) rotate(-90) translate(-1612.99 0) scale(0.67 1)" style="font-weight:bold;font-size:48.7px">L</text>
<use href="#s_squoval" transform="translate(250.5 1650.5) scale(0.11160 0.14830)" fill="url(#gH)"/>
<use href="#s_squoval" transform="translate(250.5 1650.5) scale(0.11160 0.14830)" fill="url(#gV)"/>
<path class="gl" d="M292.9 1653.5C287.3 1680.2 284 1706.9 282.9 1722.4C288.4 1709.8 298.5 1683.1 301.8 1653.5"/>
<circle class="sp" cx="282.9" cy="1747.6" r="2"/><circle class="sp" cx="281.7" cy="1755.1" r="2.5"/>
<path d="M217.4 1663V1785.8"/><path class="h" d="M217.4 1651l7.3 13h-14.6ZM217.4 1797.8l7.3 -13h-14.6Z"/>
<g transform="translate(201.75 1724.4) rotate(-90)" style="font-weight:bold;font-size:31.25px"><path class="one" d="M-22.87 -21.5H-15.62V0H-20.01V-17.72H-22.87Z"/><text transform="translate(-13.33 0) scale(1.05 1)">8</text><circle cx="9.78" cy="-2.5" r="2.5"/><path class="one" d="M15.62 -21.5H22.87V0H18.48V-17.72H15.62Z"/></g>
<g transform="translate(303.6 1614.1)" style="font-weight:bold;font-size:63.95px"><text transform="translate(-19.19 0) scale(1.08 1)">0</text></g>
<path d="M262.5 1836.4H348.6"/><path class="h" d="M250.5 1836.4l13 -7.3v14.6ZM360.6 1836.4l-13 -7.3v14.6Z"/>
<g transform="translate(305.1 1883)" style="font-weight:bold;font-size:31.25px"><path class="one" d="M-27.36 -21.5H-20.11V0H-24.5V-17.72H-27.36Z"/><text transform="translate(-17.27 0) scale(1.03 1)">4</text><circle cx="6.32" cy="-2.5" r="2.5"/><text transform="translate(11.46 0) scale(0.98 1)">3</text></g>
<use href="#s_squoval" transform="translate(431.8 1650.5) scale(0.10210 0.13810)" fill="url(#gH)"/>
<use href="#s_squoval" transform="translate(431.8 1650.5) scale(0.10210 0.13810)" fill="url(#gV)"/>
<path class="gl" d="M470.6 1653.3C465.5 1678.1 462.4 1703 461.4 1717.5C466.5 1705.7 475.7 1680.9 478.8 1653.3"/>
<circle class="sp" cx="461.4" cy="1741" r="1.8"/><circle class="sp" cx="460.4" cy="1747.9" r="2.2"/>
<path d="M412.6 1663V1775.6"/><path class="h" d="M412.6 1651l7.3 13h-14.6ZM412.6 1787.6l7.3 -13h-14.6Z"/>
<g transform="translate(396.95 1719.3) rotate(-90)" style="font-weight:bold;font-size:31.25px"><path class="one" d="M-27.5 -21.5H-20.25V0H-24.64V-17.72H-27.5Z"/><text transform="translate(-18.34 0) scale(1.06 1)">7</text><circle cx="4.4" cy="-2.5" r="2.5"/><text transform="translate(9.75 0) scale(1.03 1)">4</text></g>
<g transform="translate(483.7 1614.1)" style="font-weight:bold;font-size:63.95px"><path class="one" d="M-7.41 -44H7.41V0H-1.56V-36.26H-7.41Z"/></g>
<path d="M446.2 1836.4H521.9"/><path class="h" d="M434.2 1836.4l13 -7.3v14.6ZM533.9 1836.4l-13 -7.3v14.6Z"/>
<g transform="translate(484.6 1883)" style="font-weight:bold;font-size:31.25px"><path class="one" d="M-26.47 -21.5H-19.22V0H-23.61V-17.72H-26.47Z"/><text transform="translate(-16.59 0) scale(0.98 1)">3</text><circle cx="5.15" cy="-2.5" r="2.5"/><text transform="translate(9.87 0) scale(1.03 1)">2</text></g>
<use href="#s_squoval" transform="translate(603.8 1651) scale(0.09520 0.13370)" fill="url(#gH)"/>
<use href="#s_squoval" transform="translate(603.8 1651) scale(0.09520 0.13370)" fill="url(#gV)"/>
<path class="gl" d="M640 1653.7C635.2 1677.7 632.4 1701.8 631.4 1715.8C636.2 1704.5 644.7 1680.4 647.6 1653.7"/>
<circle class="sp" cx="631.4" cy="1738.6" r="1.7"/><circle class="sp" cx="630.5" cy="1745.3" r="2.1"/>
<path d="M587.3 1663V1771.7"/><path class="h" d="M587.3 1651l7.3 13h-14.6ZM587.3 1783.7l7.3 -13h-14.6Z"/>
<g transform="translate(571.05 1717.35) rotate(-90)" style="font-weight:bold;font-size:31.25px"><path class="one" d="M-22.49 -21.5H-15.24V0H-19.63V-17.72H-22.49Z"/><text transform="translate(-13.33 0) scale(1.06 1)">7</text><circle cx="9.41" cy="-2.5" r="2.5"/><path class="one" d="M15.24 -21.5H22.49V0H18.1V-17.72H15.24Z"/></g>
<g transform="translate(651.8 1614.1)" style="font-weight:bold;font-size:63.95px"><text transform="translate(-18.12 0) scale(1.03 1)">2</text></g>
<path d="M617.9 1836.4H686.4"/><path class="h" d="M605.9 1836.4l13 -7.3v14.6ZM698.4 1836.4l-13 -7.3v14.6Z"/>
<g transform="translate(651.8 1883)" style="font-weight:bold;font-size:31.25px"><path class="one" d="M-26.61 -21.5H-19.36V0H-23.75V-17.72H-26.61Z"/><text transform="translate(-17.14 0) scale(1.03 1)">2</text><circle cx="5.29" cy="-2.5" r="2.5"/><text transform="translate(10.01 0) scale(1.03 1)">2</text></g>
<use href="#s_squoval" transform="translate(764.5 1649.6) scale(0.08710 0.13420)" fill="url(#gH)"/>
<use href="#s_squoval" transform="translate(764.5 1649.6) scale(0.08710 0.13420)" fill="url(#gV)"/>
<path class="gl" d="M797.6 1652.3C793.2 1676.4 790.6 1700.6 789.8 1714.7C794.1 1703.3 802 1679.1 804.6 1652.3"/>
<circle class="sp" cx="789.8" cy="1737.5" r="1.6"/><circle class="sp" cx="788.9" cy="1744.2" r="1.9"/>
<path d="M748.6 1663V1770.8"/><path class="h" d="M748.6 1651l7.3 13h-14.6ZM748.6 1782.8l7.3 -13h-14.6Z"/>
<g transform="translate(734.15 1716.9) rotate(-90)" style="font-weight:bold;font-size:31.25px"><path class="one" d="M-13.03 -21.5H-5.78V0H-10.17V-17.72H-13.03Z"/><text transform="translate(-3.87 0) scale(1.06 1)">7</text></g>
<g transform="translate(805.1 1614.1)" style="font-weight:bold;font-size:63.95px"><text transform="translate(-16.99 0) scale(0.98 1)">3</text></g>
<path d="M777.4 1836.4H839.6"/><path class="h" d="M765.4 1836.4l13 -7.3v14.6ZM851.6 1836.4l-13 -7.3v14.6Z"/>
<g transform="translate(809.6 1883)" style="font-weight:bold;font-size:31.25px"><path class="one" d="M-23.38 -21.5H-16.14V0H-20.52V-17.72H-23.38Z"/><path class="one" d="M-12.8 -21.5H-5.56V0H-9.94V-17.72H-12.8Z"/><circle cx="0.28" cy="-2.5" r="2.5"/><text transform="translate(5.63 0) scale(1.03 1)">4</text></g>
<use href="#s_squoval" transform="translate(919.2 1649.6) scale(0.08100 0.12910)" fill="url(#gH)"/>
<use href="#s_squoval" transform="translate(919.2 1649.6) scale(0.08100 0.12910)" fill="url(#gV)"/>
<path class="gl" d="M950 1652.2C945.9 1675.4 943.5 1698.7 942.7 1712.2C946.7 1701.2 954 1678 956.5 1652.2"/>
<circle class="sp" cx="942.7" cy="1734.2" r="1.5"/><circle class="sp" cx="941.9" cy="1740.6" r="1.8"/>
<path d="M902.6 1663V1765.7"/><path class="h" d="M902.6 1651l7.3 13h-14.6ZM902.6 1777.7l7.3 -13h-14.6Z"/>
<g transform="translate(887.85 1714.35) rotate(-90)" style="font-weight:bold;font-size:31.25px"><path class="one" d="M-26.61 -21.5H-19.36V0H-23.75V-17.72H-26.61Z"/><text transform="translate(-17.2 0) scale(1.02 1)">6</text><circle cx="5.29" cy="-2.5" r="2.5"/><text transform="translate(9.95 0) scale(1.02 1)">6</text></g>
<g transform="translate(964.2 1614.1)" style="font-weight:bold;font-size:63.95px"><text transform="translate(-18.66 0) scale(1.03 1)">4</text></g>
<path d="M933.6 1836.4H989.7"/><path class="h" d="M921.6 1836.4l13 -7.3v14.6ZM1001.7 1836.4l-13 -7.3v14.6Z"/>
<g transform="translate(962.7 1883)" style="font-weight:bold;font-size:31.25px"><path class="one" d="M-26.91 -21.5H-19.66V0H-24.05V-17.72H-26.91Z"/><text transform="translate(-17.67 0) scale(1.08 1)">0</text><circle cx="5.59" cy="-2.5" r="2.5"/><text transform="translate(10.25 0) scale(1.02 1)">6</text></g>
<use href="#s_squoval" transform="translate(1071.7 1651) scale(0.07620 0.12260)" fill="url(#gH)"/>
<use href="#s_squoval" transform="translate(1071.7 1651) scale(0.07620 0.12260)" fill="url(#gV)"/>
<path class="gl" d="M1100.7 1653.5C1096.8 1675.5 1094.6 1697.6 1093.8 1710.5C1097.6 1700 1104.5 1678 1106.8 1653.5"/>
<circle class="sp" cx="1093.8" cy="1731.3" r="1.4"/><circle class="sp" cx="1093" cy="1737.4" r="1.7"/>
<path d="M1054.2 1663V1760.6"/><path class="h" d="M1054.2 1651l7.3 13h-14.6ZM1054.2 1772.6l7.3 -13h-14.6Z"/>
<g transform="translate(1038.55 1711.8) rotate(-90)" style="font-weight:bold;font-size:31.25px"><path class="one" d="M-13.03 -21.5H-5.78V0H-10.17V-17.72H-13.03Z"/><text transform="translate(-3.62 0) scale(1.02 1)">6</text></g>
<g transform="translate(1108.3 1614.1)" style="font-weight:bold;font-size:63.95px"><text transform="translate(-17.3 0) scale(0.97 1)">5</text></g>
<path d="M1084.9 1836.4H1136.8"/><path class="h" d="M1072.9 1836.4l13 -7.3v14.6ZM1148.8 1836.4l-13 -7.3v14.6Z"/>
<g transform="translate(1108.9 1883)" style="font-weight:bold;font-size:31.25px"><path class="one" d="M-22.79 -21.5H-15.54V0H-19.93V-17.72H-22.79Z"/><text transform="translate(-13.55 0) scale(1.08 1)">0</text><circle cx="9.71" cy="-2.5" r="2.5"/><path class="one" d="M15.54 -21.5H22.79V0H18.4V-17.72H15.54Z"/></g>
<use href="#s_squoval" transform="translate(1214 1650.5) scale(0.07360 0.11830)" fill="url(#gH)"/>
<use href="#s_squoval" transform="translate(1214 1650.5) scale(0.07360 0.11830)" fill="url(#gV)"/>
<path class="gl" d="M1242 1652.9C1238.3 1674.2 1236.1 1695.5 1235.3 1707.9C1239 1697.8 1245.6 1676.5 1247.9 1652.9"/>
<circle class="sp" cx="1235.3" cy="1728" r="1.3"/><circle class="sp" cx="1234.6" cy="1733.9" r="1.6"/>
<path d="M1197.5 1663V1755.8"/><path class="h" d="M1197.5 1651l7.3 13h-14.6ZM1197.5 1767.8l7.3 -13h-14.6Z"/>
<g transform="translate(1185.75 1709.4) rotate(-90)" style="font-weight:bold;font-size:31.25px"><path class="one" d="M-27.28 -21.5H-20.04V0H-24.42V-17.72H-27.28Z"/><text transform="translate(-17.19 0) scale(1.03 1)">4</text><circle cx="6.4" cy="-2.5" r="2.5"/><text transform="translate(11.3 0) scale(0.97 1)">5</text></g>
<g transform="translate(1250.5 1614.1)" style="font-weight:bold;font-size:63.95px"><text transform="translate(-18.24 0) scale(1.02 1)">6</text></g>
<path d="M1228.4 1836.4H1274.7"/><path class="h" d="M1216.4 1836.4l13 -7.3v14.6ZM1286.7 1836.4l-13 -7.3v14.6Z"/>
<g transform="translate(1249.8 1883)" style="font-weight:bold;font-size:31.25px"><text transform="translate(-22.8 0) scale(1.02 1)">9</text><circle cx="-0.38" cy="-2.5" r="2.5"/><text transform="translate(4.42 0) scale(1.05 1)">8</text></g>
<use href="#s_squoval" transform="translate(1352.1 1651) scale(0.07060 0.11120)" fill="url(#gH)"/>
<use href="#s_squoval" transform="translate(1352.1 1651) scale(0.07060 0.11120)" fill="url(#gV)"/>
<path class="gl" d="M1378.9 1653.2C1375.4 1673.2 1373.3 1693.3 1372.6 1704.9C1376.1 1695.5 1382.5 1675.5 1384.6 1653.2"/>
<circle class="sp" cx="1372.6" cy="1723.8" r="1.3"/><circle class="sp" cx="1371.9" cy="1729.4" r="1.6"/>
<path d="M1337.1 1663V1749.2"/><path class="h" d="M1337.1 1651l7.3 13h-14.6ZM1337.1 1761.2l7.3 -13h-14.6Z"/>
<g transform="translate(1325.35 1706.1) rotate(-90)" style="font-weight:bold;font-size:31.25px"><path class="one" d="M-27.28 -21.5H-20.04V0H-24.42V-17.72H-27.28Z"/><text transform="translate(-17.19 0) scale(1.03 1)">4</text><circle cx="6.4" cy="-2.5" r="2.5"/><text transform="translate(11.3 0) scale(0.97 1)">5</text></g>
<g transform="translate(1389.7 1614.1)" style="font-weight:bold;font-size:63.95px"><text transform="translate(-18.74 0) scale(1.06 1)">7</text></g>
<path d="M1364.1 1836.4H1419.7"/><path class="h" d="M1352.1 1836.4l13 -7.3v14.6ZM1431.7 1836.4l-13 -7.3v14.6Z"/>
<g transform="translate(1388.2 1883)" style="font-weight:bold;font-size:31.25px"><text transform="translate(-22.29 0) scale(1.02 1)">9</text><circle cx="0.14" cy="-2.5" r="2.5"/><text transform="translate(5.28 0) scale(0.98 1)">3</text></g>
<use href="#s_squoval" transform="translate(1489.6 1651) scale(0.07030 0.11120)" fill="url(#gH)"/>
<use href="#s_squoval" transform="translate(1489.6 1651) scale(0.07030 0.11120)" fill="url(#gV)"/>
<path class="gl" d="M1516.3 1653.2C1512.8 1673.2 1510.7 1693.3 1510 1704.9C1513.5 1695.5 1519.8 1675.5 1521.9 1653.2"/>
<circle class="sp" cx="1510" cy="1723.8" r="1.3"/><circle class="sp" cx="1509.3" cy="1729.4" r="1.5"/>
<path d="M1472.2 1663V1749.2"/><path class="h" d="M1472.2 1651l7.3 13h-14.6ZM1472.2 1761.2l7.3 -13h-14.6Z"/>
<g transform="translate(1460.45 1706.1) rotate(-90)" style="font-weight:bold;font-size:31.25px"><path class="one" d="M-27.28 -21.5H-20.04V0H-24.42V-17.72H-27.28Z"/><text transform="translate(-17.19 0) scale(1.03 1)">4</text><circle cx="6.4" cy="-2.5" r="2.5"/><text transform="translate(11.3 0) scale(0.97 1)">5</text></g>
<g transform="translate(1525.6 1614.1)" style="font-weight:bold;font-size:63.95px"><text transform="translate(-18.75 0) scale(1.05 1)">8</text></g>
<path d="M1494.7 1836.4H1550.9"/><path class="h" d="M1482.7 1836.4l13 -7.3v14.6ZM1562.9 1836.4l-13 -7.3v14.6Z"/>
<g transform="translate(1522.7 1883)" style="font-weight:bold;font-size:31.25px"><text transform="translate(-22.29 0) scale(1.02 1)">9</text><circle cx="0.14" cy="-2.5" r="2.5"/><text transform="translate(5.28 0) scale(0.98 1)">3</text></g>
<use href="#s_squoval" transform="translate(1621.7 1651) scale(0.07030 0.11120)" fill="url(#gH)"/>
<use href="#s_squoval" transform="translate(1621.7 1651) scale(0.07030 0.11120)" fill="url(#gV)"/>
<path class="gl" d="M1648.4 1653.2C1644.9 1673.2 1642.8 1693.3 1642.1 1704.9C1645.6 1695.5 1651.9 1675.5 1654 1653.2"/>
<circle class="sp" cx="1642.1" cy="1723.8" r="1.3"/><circle class="sp" cx="1641.4" cy="1729.4" r="1.5"/>
<path d="M1607.9 1663V1749.2"/><path class="h" d="M1607.9 1651l7.3 13h-14.6ZM1607.9 1761.2l7.3 -13h-14.6Z"/>
<g transform="translate(1597.05 1706.1) rotate(-90)" style="font-weight:bold;font-size:31.25px"><path class="one" d="M-27.28 -21.5H-20.04V0H-24.42V-17.72H-27.28Z"/><text transform="translate(-17.19 0) scale(1.03 1)">4</text><circle cx="6.4" cy="-2.5" r="2.5"/><text transform="translate(11.3 0) scale(0.97 1)">5</text></g>
<g transform="translate(1657.7 1614.1)" style="font-weight:bold;font-size:63.95px"><text transform="translate(-18.11 0) scale(1.02 1)">9</text></g>
<path d="M1637.3 1836.4H1678.8"/><path class="h" d="M1625.3 1836.4l13 -7.3v14.6ZM1690.8 1836.4l-13 -7.3v14.6Z"/>
<g transform="translate(1655.3 1883)" style="font-weight:bold;font-size:31.25px"><text transform="translate(-22.74 0) scale(1.05 1)">8</text><circle cx="0.38" cy="-2.5" r="2.5"/><text transform="translate(4.8 0) scale(1.06 1)">7</text></g>
<use href="#s_squoval" transform="translate(1753.6 1650.5) scale(0.06400 0.10810)" fill="url(#gH)"/>
<use href="#s_squoval" transform="translate(1753.6 1650.5) scale(0.06400 0.10810)" fill="url(#gV)"/>
<path class="gl" d="M1777.9 1652.7C1774.7 1672.1 1772.8 1691.6 1772.2 1702.9C1775.4 1693.7 1781.1 1674.3 1783 1652.7"/>
<circle class="sp" cx="1772.2" cy="1721.3" r="1.2"/><circle class="sp" cx="1771.5" cy="1726.7" r="1.4"/>
<path d="M1737.4 1663V1745.6"/><path class="h" d="M1737.4 1651l7.3 13h-14.6ZM1737.4 1757.6l7.3 -13h-14.6Z"/>
<g transform="translate(1726.25 1704.3) rotate(-90)" style="font-weight:bold;font-size:31.25px"><path class="one" d="M-23.38 -21.5H-16.14V0H-20.52V-17.72H-23.38Z"/><text transform="translate(-13.29 0) scale(1.03 1)">4</text><circle cx="10.3" cy="-2.5" r="2.5"/><path class="one" d="M16.14 -21.5H23.38V0H19V-17.72H16.14Z"/></g>
<g transform="translate(1781.6 1614.1)" style="font-weight:bold;font-size:63.95px"><path class="one" d="M-27.28 -44H-12.45V0H-21.43V-36.26H-27.28Z"/><text transform="translate(-8.37 0) scale(1.08 1)">0</text></g>
<path d="M1765.6 1836.4H1804.1"/><path class="h" d="M1753.6 1836.4l13 -7.3v14.6ZM1816.1 1836.4l-13 -7.3v14.6Z"/>
<g transform="translate(1786.7 1883)" style="font-weight:bold;font-size:31.25px"><text transform="translate(-18.62 0) scale(1.05 1)">8</text><circle cx="4.49" cy="-2.5" r="2.5"/><path class="one" d="M10.33 -21.5H17.58V0H13.19V-17.72H10.33Z"/></g>
<use href="#s_squoval" transform="translate(1873.7 1650.5) scale(0.06010 0.10810)" fill="url(#gH)"/>
<use href="#s_squoval" transform="translate(1873.7 1650.5) scale(0.06010 0.10810)" fill="url(#gV)"/>
<path class="gl" d="M1896.5 1652.7C1893.5 1672.1 1891.7 1691.6 1891.1 1702.9C1894.1 1693.7 1899.5 1674.3 1901.3 1652.7"/>
<circle class="sp" cx="1891.1" cy="1721.3" r="1.2"/><circle class="sp" cx="1890.5" cy="1726.7" r="1.3"/>
<path d="M1860.5 1663V1745.6"/><path class="h" d="M1860.5 1651l7.3 13h-14.6ZM1860.5 1757.6l7.3 -13h-14.6Z"/>
<g transform="translate(1848.45 1704.3) rotate(-90)" style="font-weight:bold;font-size:31.25px"><path class="one" d="M-28.39 -21.5H-21.15V0H-25.53V-17.72H-28.39Z"/><text transform="translate(-18.3 0) scale(1.03 1)">4</text><circle cx="5.29" cy="-2.5" r="2.5"/><text transform="translate(10.64 0) scale(1.03 1)">4</text></g>
<g transform="translate(1900.1 1614.1)" style="font-weight:bold;font-size:63.95px"><path class="one" d="M-18.24 -44H-3.41V0H-12.39V-36.26H-18.24Z"/><path class="one" d="M3.41 -44H18.24V0H9.26V-36.26H3.41Z"/></g>
<path d="M1889.6 1836.4H1922.7"/><path class="h" d="M1877.6 1836.4l13 -7.3v14.6ZM1934.7 1836.4l-13 -7.3v14.6Z"/>
<g transform="translate(1903.7 1883)" style="font-weight:bold;font-size:31.25px"><text transform="translate(-18.62 0) scale(1.05 1)">8</text><circle cx="4.49" cy="-2.5" r="2.5"/><path class="one" d="M10.33 -21.5H17.58V0H13.19V-17.72H10.33Z"/></g>
<use href="#s_squoval" transform="translate(1990.2 1651.7) scale(0.05950 0.10900)" fill="url(#gH)"/>
<use href="#s_squoval" transform="translate(1990.2 1651.7) scale(0.05950 0.10900)" fill="url(#gV)"/>
<path class="gl" d="M2012.8 1653.9C2009.8 1673.5 2008 1693.1 2007.5 1704.6C2010.4 1695.3 2015.8 1675.7 2017.6 1653.9"/>
<circle class="sp" cx="2007.5" cy="1723.1" r="1.2"/><circle class="sp" cx="2006.9" cy="1728.5" r="1.3"/>
<path d="M1977.6 1663V1747.7"/><path class="h" d="M1977.6 1651l7.3 13h-14.6ZM1977.6 1759.7l7.3 -13h-14.6Z"/>
<g transform="translate(1966.45 1705.35) rotate(-90)" style="font-weight:bold;font-size:31.25px"><path class="one" d="M-27.36 -21.5H-20.11V0H-24.5V-17.72H-27.36Z"/><text transform="translate(-17.27 0) scale(1.03 1)">4</text><circle cx="6.32" cy="-2.5" r="2.5"/><text transform="translate(11.46 0) scale(0.98 1)">3</text></g>
<g transform="translate(2019.6 1614.1)" style="font-weight:bold;font-size:63.95px"><path class="one" d="M-26.66 -44H-11.84V0H-20.81V-36.26H-26.66Z"/><text transform="translate(-7.3 0) scale(1.03 1)">2</text></g>
<path d="M2004.6 1836.4H2038.2"/><path class="h" d="M1992.6 1836.4l13 -7.3v14.6ZM2050.2 1836.4l-13 -7.3v14.6Z"/>
<g transform="translate(2021.7 1883)" style="font-weight:bold;font-size:31.25px"><text transform="translate(-22.73 0) scale(1.06 1)">7</text><circle cx="0" cy="-2.5" r="2.5"/><text transform="translate(4.42 0) scale(1.06 1)">7</text></g>
<use href="#s_squoval" transform="translate(2107.5 1652) scale(0.05250 0.10700)" fill="url(#gH)"/>
<use href="#s_squoval" transform="translate(2107.5 1652) scale(0.05250 0.10700)" fill="url(#gV)"/>
<path class="gl" d="M2127.4 1654.1C2124.8 1673.4 2123.2 1692.7 2122.7 1703.9C2125.3 1694.8 2130.1 1675.5 2131.7 1654.1"/>
<circle class="sp" cx="2122.7" cy="1722.1" r="1.2"/><circle class="sp" cx="2122.2" cy="1727.4" r="1.2"/>
<path d="M2093 1663V1746"/><path class="h" d="M2093 1651l7.3 13h-14.6ZM2093 1758l7.3 -13h-14.6Z"/>
<g transform="translate(2081.45 1704.5) rotate(-90)" style="font-weight:bold;font-size:31.25px"><path class="one" d="M-26.47 -21.5H-19.22V0H-23.61V-17.72H-26.47Z"/><text transform="translate(-16.59 0) scale(0.98 1)">3</text><circle cx="5.15" cy="-2.5" r="2.5"/><text transform="translate(9.88 0) scale(1.02 1)">9</text></g>
<g transform="translate(2130 1611.6)" style="font-weight:bold;font-size:63.95px"><path class="one" d="M-26.38 -44H-11.55V0H-20.53V-36.26H-26.38Z"/><text transform="translate(-6.17 0) scale(0.98 1)">3</text></g>
<path d="M2121.6 1836.4H2149.4"/><path class="h" d="M2109.6 1836.4l13 -7.3v14.6ZM2161.4 1836.4l-13 -7.3v14.6Z"/>
<g transform="translate(2137.5 1883)" style="font-weight:bold;font-size:31.25px"><text transform="translate(-9.16 0) scale(1.06 1)">7</text></g>
<use href="#s_squoval" transform="translate(2212.5 1651.5) scale(0.05150 0.10550)" fill="url(#gH)"/>
<use href="#s_squoval" transform="translate(2212.5 1651.5) scale(0.05150 0.10550)" fill="url(#gV)"/>
<path class="gl" d="M2232.1 1653.6C2229.5 1672.6 2227.9 1691.6 2227.4 1702.7C2230 1693.7 2234.6 1674.7 2236.2 1653.6"/>
<circle class="sp" cx="2227.4" cy="1720.6" r="1.2"/><circle class="sp" cx="2226.9" cy="1725.9" r="1.2"/>
<path d="M2198.2 1663V1744"/><path class="h" d="M2198.2 1651l7.3 13h-14.6ZM2198.2 1756l7.3 -13h-14.6Z"/>
<g transform="translate(2190.05 1703.5) rotate(-90)" style="font-weight:bold;font-size:31.25px"><path class="one" d="M-26.84 -21.5H-19.6V0H-23.98V-17.72H-26.84Z"/><text transform="translate(-16.97 0) scale(0.98 1)">3</text><circle cx="4.77" cy="-2.5" r="2.5"/><text transform="translate(9.57 0) scale(1.05 1)">8</text></g>
<g transform="translate(2232.3 1614.1)" style="font-weight:bold;font-size:63.95px"><path class="one" d="M-28.49 -44H-13.66V0H-22.64V-36.26H-28.49Z"/><text transform="translate(-7.84 0) scale(1.03 1)">4</text></g>
<path d="M2226.6 1836.4H2250.2"/><path class="h" d="M2214.6 1836.4l13 -7.3v14.6ZM2262.2 1836.4l-13 -7.3v14.6Z"/>
<g transform="translate(2238.7 1883)" style="font-weight:bold;font-size:31.25px"><text transform="translate(-22.49 0) scale(1.02 1)">6</text><circle cx="0" cy="-2.5" r="2.5"/><text transform="translate(4.66 0) scale(1.02 1)">6</text></g>
<use href="#s_squoval" transform="translate(2323.5 1653.1) scale(0.06660 0.11100)" fill="url(#gH)"/>
<use href="#s_squoval" transform="translate(2323.5 1653.1) scale(0.06660 0.11100)" fill="url(#gV)"/>
<path class="gl" d="M2348.8 1655.3C2345.5 1675.3 2343.5 1695.3 2342.8 1706.9C2346.1 1697.5 2352.1 1677.5 2354.1 1655.3"/>
<circle class="sp" cx="2342.8" cy="1725.8" r="1.2"/><circle class="sp" cx="2342.1" cy="1731.4" r="1.5"/>
<path d="M2307.4 1663V1751.1"/><path class="h" d="M2307.4 1651l7.3 13h-14.6ZM2307.4 1763.1l7.3 -13h-14.6Z"/>
<g transform="translate(2297.95 1707.05) rotate(-90)" style="font-weight:bold;font-size:31.25px"><path class="one" d="M-27.28 -21.5H-20.04V0H-24.42V-17.72H-27.28Z"/><text transform="translate(-17.19 0) scale(1.03 1)">4</text><circle cx="6.4" cy="-2.5" r="2.5"/><text transform="translate(11.3 0) scale(0.97 1)">5</text></g>
<g transform="translate(2355.8 1614.1)" style="font-weight:bold;font-size:63.95px"><path class="one" d="M-26.22 -44H-11.4V0H-20.37V-36.26H-26.22Z"/><text transform="translate(-6.48 0) scale(0.97 1)">5</text></g>
<path d="M2335.5 1836.4H2382.2"/><path class="h" d="M2323.5 1836.4l13 -7.3v14.6ZM2394.2 1836.4l-13 -7.3v14.6Z"/>
<g transform="translate(2358.8 1883)" style="font-weight:bold;font-size:31.25px"><text transform="translate(-22.74 0) scale(1.05 1)">8</text><circle cx="0.38" cy="-2.5" r="2.5"/><text transform="translate(4.8 0) scale(1.06 1)">7</text></g>
<text transform="translate(133.1 0) rotate(-90) translate(-2211.18 0) scale(0.99 1)" style="font-weight:bold;font-size:48.7px">C</text>
<text transform="translate(133.1 0) rotate(-90) translate(-2170.76 0) scale(0.98 1)" style="font-weight:bold;font-size:48.7px">O</text>
<text transform="translate(133.1 0) rotate(-90) translate(-2129 0) scale(0.83 1)" style="font-weight:bold;font-size:48.7px">F</text>
<text transform="translate(133.1 0) rotate(-90) translate(-2098.62 0) scale(0.77 1)" style="font-weight:bold;font-size:48.7px">F</text>
<text transform="translate(133.1 0) rotate(-90) translate(-2070.8 0) scale(0.98 1)" style="font-weight:bold;font-size:48.7px">I</text>
<text transform="translate(133.1 0) rotate(-90) translate(-2052.79 0) scale(0.98 1)" style="font-weight:bold;font-size:48.7px">N</text>
<use href="#s_coffin" transform="translate(239.7 2042.1) scale(0.10980 0.16450)" fill="url(#gH)"/>
<use href="#s_coffin" transform="translate(239.7 2042.1) scale(0.10980 0.16450)" fill="url(#gV)"/>
<path class="gl" d="M281.4 2045.4C275.9 2075 272.6 2104.6 271.5 2121.9C277 2107.9 286.9 2078.3 290.2 2045.4"/>
<circle class="sp" cx="271.5" cy="2149.8" r="2"/><circle class="sp" cx="270.4" cy="2158.1" r="2.4"/>
<path d="M214.4 2057.5V2183.2"/><path class="h" d="M214.4 2045.5l7.3 13h-14.6ZM214.4 2195.2l7.3 -13h-14.6Z"/>
<g transform="translate(198.75 2120.35) rotate(-90)" style="font-weight:bold;font-size:31.25px"><text transform="translate(-32.14 0) scale(1.03 1)">2</text><text transform="translate(-13.55 0) scale(1.08 1)">0</text><circle cx="9.71" cy="-2.5" r="2.5"/><text transform="translate(14.37 0) scale(1.02 1)">6</text></g>
<g transform="translate(302.1 2009.1)" style="font-weight:bold;font-size:63.95px"><text transform="translate(-19.19 0) scale(1.08 1)">0</text></g>
<path d="M252.6 2231.4H336.6"/><path class="h" d="M240.6 2231.4l13 -7.3v14.6ZM348.6 2231.4l-13 -7.3v14.6Z"/>
<g transform="translate(302.7 2278)" style="font-weight:bold;font-size:31.25px"><path class="one" d="M-26.47 -21.5H-19.22V0H-23.61V-17.72H-26.47Z"/><text transform="translate(-16.59 0) scale(0.98 1)">3</text><circle cx="5.15" cy="-2.5" r="2.5"/><text transform="translate(9.88 0) scale(1.02 1)">9</text></g>
<use href="#s_coffin" transform="translate(429.7 2039.7) scale(0.10120 0.16450)" fill="url(#gH)"/>
<use href="#s_coffin" transform="translate(429.7 2039.7) scale(0.10120 0.16450)" fill="url(#gV)"/>
<path class="gl" d="M468.2 2043C463.1 2072.6 460.1 2102.2 459 2119.5C464.1 2105.5 473.2 2075.9 476.3 2043"/>
<circle class="sp" cx="459" cy="2147.4" r="1.8"/><circle class="sp" cx="458" cy="2155.7" r="2.2"/>
<path d="M409.6 2057.5V2173.6"/><path class="h" d="M409.6 2045.5l7.3 13h-14.6ZM409.6 2185.6l7.3 -13h-14.6Z"/>
<g transform="translate(394.55 2115.55) rotate(-90)" style="font-weight:bold;font-size:31.25px"><text transform="translate(-28.02 0) scale(1.03 1)">2</text><text transform="translate(-9.43 0) scale(1.08 1)">0</text><circle cx="13.82" cy="-2.5" r="2.5"/><path class="one" d="M19.66 -21.5H26.91V0H22.52V-17.72H19.66Z"/></g>
<g transform="translate(482.2 2009.1)" style="font-weight:bold;font-size:63.95px"><path class="one" d="M-7.41 -44H7.41V0H-1.56V-36.26H-7.41Z"/></g>
<path d="M443.8 2231.4H519.8"/><path class="h" d="M431.8 2231.4l13 -7.3v14.6ZM531.8 2231.4l-13 -7.3v14.6Z"/>
<g transform="translate(481.6 2278)" style="font-weight:bold;font-size:31.25px"><path class="one" d="M-26.98 -21.5H-19.74V0H-24.12V-17.72H-26.98Z"/><text transform="translate(-17.52 0) scale(1.03 1)">2</text><circle cx="4.91" cy="-2.5" r="2.5"/><text transform="translate(9.71 0) scale(1.05 1)">8</text></g>
<use href="#s_coffin" transform="translate(605.3 2041.5) scale(0.09250 0.15910)" fill="url(#gH)"/>
<use href="#s_coffin" transform="translate(605.3 2041.5) scale(0.09250 0.15910)" fill="url(#gV)"/>
<path class="gl" d="M640.4 2044.7C635.8 2073.3 633 2102 632.1 2118.7C636.8 2105.1 645.1 2076.5 647.8 2044.7"/>
<circle class="sp" cx="632.1" cy="2145.7" r="1.7"/><circle class="sp" cx="631.2" cy="2153.7" r="2"/>
<path d="M584.3 2057.5V2168.8"/><path class="h" d="M584.3 2045.5l7.3 13h-14.6ZM584.3 2180.8l7.3 -13h-14.6Z"/>
<g transform="translate(568.65 2113.15) rotate(-90)" style="font-weight:bold;font-size:31.25px"><path class="one" d="M-26.61 -21.5H-19.36V0H-23.75V-17.72H-26.61Z"/><text transform="translate(-17.14 0) scale(1.02 1)">9</text><circle cx="5.29" cy="-2.5" r="2.5"/><text transform="translate(9.95 0) scale(1.02 1)">6</text></g>
<g transform="translate(649.7 2009.1)" style="font-weight:bold;font-size:63.95px"><text transform="translate(-18.12 0) scale(1.03 1)">2</text></g>
<path d="M617.3 2231.4H685.8"/><path class="h" d="M605.3 2231.4l13 -7.3v14.6ZM697.8 2231.4l-13 -7.3v14.6Z"/>
<g transform="translate(649.7 2278)" style="font-weight:bold;font-size:31.25px"><path class="one" d="M-13.03 -21.5H-5.78V0H-10.17V-17.72H-13.03Z"/><text transform="translate(-3.57 0) scale(1.03 1)">2</text></g>
<use href="#s_coffin" transform="translate(761.5 2042.7) scale(0.09160 0.15310)" fill="url(#gH)"/>
<use href="#s_coffin" transform="translate(761.5 2042.7) scale(0.09160 0.15310)" fill="url(#gV)"/>
<path class="gl" d="M796.3 2045.8C791.7 2073.3 789 2100.9 788.1 2117C792.6 2103.9 800.9 2076.4 803.6 2045.8"/>
<circle class="sp" cx="788.1" cy="2143" r="1.6"/><circle class="sp" cx="787.1" cy="2150.6" r="2"/>
<path d="M746.5 2057.5V2168.8"/><path class="h" d="M746.5 2045.5l7.3 13h-14.6ZM746.5 2180.8l7.3 -13h-14.6Z"/>
<g transform="translate(731.15 2113.15) rotate(-90)" style="font-weight:bold;font-size:31.25px"><path class="one" d="M-26.98 -21.5H-19.74V0H-24.12V-17.72H-26.98Z"/><text transform="translate(-17.45 0) scale(1.05 1)">8</text><circle cx="5.67" cy="-2.5" r="2.5"/><text transform="translate(10.39 0) scale(1.02 1)">9</text></g>
<g transform="translate(803.6 2009.1)" style="font-weight:bold;font-size:63.95px"><text transform="translate(-16.99 0) scale(0.98 1)">3</text></g>
<path d="M775 2231.4H837.5"/><path class="h" d="M763 2231.4l13 -7.3v14.6ZM849.5 2231.4l-13 -7.3v14.6Z"/>
<g transform="translate(806.6 2278)" style="font-weight:bold;font-size:31.25px"><path class="one" d="M-22.87 -21.5H-15.62V0H-20.01V-17.72H-22.87Z"/><path class="one" d="M-12.29 -21.5H-5.04V0H-9.43V-17.72H-12.29Z"/><circle cx="0.8" cy="-2.5" r="2.5"/><text transform="translate(5.59 0) scale(1.05 1)">8</text></g>
<use href="#s_coffin" transform="translate(920.7 2042.1) scale(0.08310 0.15160)" fill="url(#gH)"/>
<use href="#s_coffin" transform="translate(920.7 2042.1) scale(0.08310 0.15160)" fill="url(#gV)"/>
<path class="gl" d="M952.3 2045.1C948.1 2072.4 945.6 2099.7 944.8 2115.6C949 2102.7 956.4 2075.5 958.9 2045.1"/>
<circle class="sp" cx="944.8" cy="2141.4" r="1.5"/><circle class="sp" cx="944" cy="2149" r="1.8"/>
<path d="M899.6 2057.5V2162.8"/><path class="h" d="M899.6 2045.5l7.3 13h-14.6ZM899.6 2174.8l7.3 -13h-14.6Z"/>
<g transform="translate(884.85 2110.15) rotate(-90)" style="font-weight:bold;font-size:31.25px"><path class="one" d="M-27.36 -21.5H-20.11V0H-24.5V-17.72H-27.36Z"/><text transform="translate(-17.82 0) scale(1.05 1)">8</text><circle cx="5.29" cy="-2.5" r="2.5"/><text transform="translate(10.08 0) scale(1.05 1)">8</text></g>
<g transform="translate(962.7 2009.1)" style="font-weight:bold;font-size:63.95px"><text transform="translate(-18.66 0) scale(1.03 1)">4</text></g>
<path d="M936.6 2231.4H993.6"/><path class="h" d="M924.6 2231.4l13 -7.3v14.6ZM1005.6 2231.4l-13 -7.3v14.6Z"/>
<g transform="translate(965.7 2278)" style="font-weight:bold;font-size:31.25px"><path class="one" d="M-26.91 -21.5H-19.66V0H-24.05V-17.72H-26.91Z"/><text transform="translate(-17.67 0) scale(1.08 1)">0</text><circle cx="5.59" cy="-2.5" r="2.5"/><text transform="translate(10.32 0) scale(1.02 1)">9</text></g>
<use href="#s_coffin" transform="translate(1069.9 2042.1) scale(0.08040 0.15160)" fill="url(#gH)"/>
<use href="#s_coffin" transform="translate(1069.9 2042.1) scale(0.08040 0.15160)" fill="url(#gV)"/>
<path class="gl" d="M1100.5 2045.1C1096.4 2072.4 1094 2099.7 1093.2 2115.6C1097.2 2102.7 1104.5 2075.5 1106.9 2045.1"/>
<circle class="sp" cx="1093.2" cy="2141.4" r="1.4"/><circle class="sp" cx="1092.4" cy="2149" r="1.8"/>
<path d="M1051.8 2057.5V2154.7"/><path class="h" d="M1051.8 2045.5l7.3 13h-14.6ZM1051.8 2166.7l7.3 -13h-14.6Z"/>
<g transform="translate(1036.45 2106.1) rotate(-90)" style="font-weight:bold;font-size:31.25px"><path class="one" d="M-26.98 -21.5H-19.74V0H-24.12V-17.72H-26.98Z"/><text transform="translate(-17.45 0) scale(1.05 1)">8</text><circle cx="5.67" cy="-2.5" r="2.5"/><text transform="translate(10.33 0) scale(1.02 1)">6</text></g>
<g transform="translate(1106.8 2009.1)" style="font-weight:bold;font-size:63.95px"><text transform="translate(-17.3 0) scale(0.97 1)">5</text></g>
<path d="M1086.7 2231.4H1138.9"/><path class="h" d="M1074.7 2231.4l13 -7.3v14.6ZM1150.9 2231.4l-13 -7.3v14.6Z"/>
<g transform="translate(1110.7 2278)" style="font-weight:bold;font-size:31.25px"><path class="one" d="M-27.8 -21.5H-20.55V0H-24.94V-17.72H-27.8Z"/><text transform="translate(-18.56 0) scale(1.08 1)">0</text><circle cx="4.7" cy="-2.5" r="2.5"/><text transform="translate(10.05 0) scale(1.03 1)">4</text></g>
<use href="#s_coffin" transform="translate(1214 2042.7) scale(0.07570 0.15100)" fill="url(#gH)"/>
<use href="#s_coffin" transform="translate(1214 2042.7) scale(0.07570 0.15100)" fill="url(#gV)"/>
<path class="gl" d="M1242.8 2045.7C1239 2072.9 1236.7 2100.1 1236 2115.9C1239.7 2103.1 1246.6 2075.9 1248.8 2045.7"/>
<circle class="sp" cx="1236" cy="2141.6" r="1.4"/><circle class="sp" cx="1235.2" cy="2149.2" r="1.7"/>
<path d="M1195.4 2057.5V2152.6"/><path class="h" d="M1195.4 2045.5l7.3 13h-14.6ZM1195.4 2164.6l7.3 -13h-14.6Z"/>
<g transform="translate(1183.35 2105.05) rotate(-90)" style="font-weight:bold;font-size:31.25px"><path class="one" d="M-26.77 -21.5H-19.52V0H-23.91V-17.72H-26.77Z"/><text transform="translate(-17.23 0) scale(1.05 1)">8</text><circle cx="5.88" cy="-2.5" r="2.5"/><text transform="translate(10.79 0) scale(0.97 1)">5</text></g>
<g transform="translate(1247.8 2009.1)" style="font-weight:bold;font-size:63.95px"><text transform="translate(-18.24 0) scale(1.02 1)">6</text></g>
<path d="M1227.5 2231.4H1277.7"/><path class="h" d="M1215.5 2231.4l13 -7.3v14.6ZM1289.7 2231.4l-13 -7.3v14.6Z"/>
<g transform="translate(1251.2 2278)" style="font-weight:bold;font-size:31.25px"><text transform="translate(-22.43 0) scale(1.02 1)">9</text><circle cx="0" cy="-2.5" r="2.5"/><text transform="translate(4.42 0) scale(1.06 1)">7</text></g>
<use href="#s_coffin" transform="translate(1353.6 2041.5) scale(0.07210 0.14620)" fill="url(#gH)"/>
<use href="#s_coffin" transform="translate(1353.6 2041.5) scale(0.07210 0.14620)" fill="url(#gV)"/>
<path class="gl" d="M1381 2044.4C1377.4 2070.7 1375.2 2097.1 1374.5 2112.4C1378.1 2100 1384.6 2073.7 1386.8 2044.4"/>
<circle class="sp" cx="1374.5" cy="2137.3" r="1.3"/><circle class="sp" cx="1373.8" cy="2144.6" r="1.6"/>
<path d="M1334.7 2057.5V2148.7"/><path class="h" d="M1334.7 2045.5l7.3 13h-14.6ZM1334.7 2160.7l7.3 -13h-14.6Z"/>
<g transform="translate(1323.85 2103.1) rotate(-90)" style="font-weight:bold;font-size:31.25px"><path class="one" d="M-22.87 -21.5H-15.62V0H-20.01V-17.72H-22.87Z"/><text transform="translate(-13.33 0) scale(1.05 1)">8</text><circle cx="9.78" cy="-2.5" r="2.5"/><path class="one" d="M15.62 -21.5H22.87V0H18.48V-17.72H15.62Z"/></g>
<g transform="translate(1385.8 2009.1)" style="font-weight:bold;font-size:63.95px"><text transform="translate(-18.74 0) scale(1.06 1)">7</text></g>
<path d="M1368.6 2231.4H1414.6"/><path class="h" d="M1356.6 2231.4l13 -7.3v14.6ZM1426.6 2231.4l-13 -7.3v14.6Z"/>
<g transform="translate(1392.7 2278)" style="font-weight:bold;font-size:31.25px"><text transform="translate(-23.32 0) scale(1.02 1)">9</text><circle cx="-0.89" cy="-2.5" r="2.5"/><text transform="translate(4.46 0) scale(1.03 1)">4</text></g>
<use href="#s_coffin" transform="translate(1488.7 2043.6) scale(0.07120 0.14260)" fill="url(#gH)"/>
<use href="#s_coffin" transform="translate(1488.7 2043.6) scale(0.07120 0.14260)" fill="url(#gV)"/>
<path class="gl" d="M1515.8 2046.5C1512.2 2072.1 1510.1 2097.8 1509.3 2112.8C1512.9 2100.6 1519.3 2075 1521.5 2046.5"/>
<circle class="sp" cx="1509.3" cy="2137" r="1.3"/><circle class="sp" cx="1508.6" cy="2144.1" r="1.6"/>
<path d="M1470.7 2057.5V2144.8"/><path class="h" d="M1470.7 2045.5l7.3 13h-14.6ZM1470.7 2156.8l7.3 -13h-14.6Z"/>
<g transform="translate(1458.35 2101.15) rotate(-90)" style="font-weight:bold;font-size:31.25px"><path class="one" d="M-26.61 -21.5H-19.36V0H-23.75V-17.72H-26.61Z"/><text transform="translate(-17.45 0) scale(1.06 1)">7</text><circle cx="5.29" cy="-2.5" r="2.5"/><text transform="translate(10.02 0) scale(1.02 1)">9</text></g>
<g transform="translate(1523.3 2009.1)" style="font-weight:bold;font-size:63.95px"><text transform="translate(-18.75 0) scale(1.05 1)">8</text></g>
<path d="M1502.2 2231.4H1548.8"/><path class="h" d="M1490.2 2231.4l13 -7.3v14.6ZM1560.8 2231.4l-13 -7.3v14.6Z"/>
<g transform="translate(1525.6 2278)" style="font-weight:bold;font-size:31.25px"><text transform="translate(-22.74 0) scale(1.05 1)">8</text><circle cx="0.38" cy="-2.5" r="2.5"/><text transform="translate(5.11 0) scale(1.02 1)">9</text></g>
<use href="#s_coffin" transform="translate(1623.8 2042.7) scale(0.06400 0.14200)" fill="url(#gH)"/>
<use href="#s_coffin" transform="translate(1623.8 2042.7) scale(0.06400 0.14200)" fill="url(#gV)"/>
<path class="gl" d="M1648.1 2045.5C1644.9 2071.1 1643 2096.7 1642.4 2111.6C1645.6 2099.5 1651.3 2073.9 1653.2 2045.5"/>
<circle class="sp" cx="1642.4" cy="2135.7" r="1.2"/><circle class="sp" cx="1641.7" cy="2142.8" r="1.4"/>
<path d="M1605.8 2057.5V2144.8"/><path class="h" d="M1605.8 2045.5l7.3 13h-14.6ZM1605.8 2156.8l7.3 -13h-14.6Z"/>
<g transform="translate(1594.05 2101.15) rotate(-90)" style="font-weight:bold;font-size:31.25px"><path class="one" d="M-26.39 -21.5H-19.15V0H-23.53V-17.72H-26.39Z"/><text transform="translate(-17.23 0) scale(1.06 1)">7</text><circle cx="5.5" cy="-2.5" r="2.5"/><text transform="translate(10.41 0) scale(0.97 1)">5</text></g>
<g transform="translate(1655.3 2009.1)" style="font-weight:bold;font-size:63.95px"><text transform="translate(-18.11 0) scale(1.02 1)">9</text></g>
<path d="M1638 2231.4H1677"/><path class="h" d="M1626 2231.4l13 -7.3v14.6ZM1689 2231.4l-13 -7.3v14.6Z"/>
<g transform="translate(1656.8 2278)" style="font-weight:bold;font-size:31.25px"><text transform="translate(-22.74 0) scale(1.05 1)">8</text><circle cx="0.38" cy="-2.5" r="2.5"/><text transform="translate(5.1 0) scale(1.03 1)">2</text></g>
<use href="#s_coffin" transform="translate(1751.5 2044.5) scale(0.06310 0.13810)" fill="url(#gH)"/>
<use href="#s_coffin" transform="translate(1751.5 2044.5) scale(0.06310 0.13810)" fill="url(#gV)"/>
<path class="gl" d="M1775.5 2047.3C1772.3 2072.1 1770.4 2097 1769.8 2111.5C1773 2099.7 1778.6 2074.9 1780.5 2047.3"/>
<circle class="sp" cx="1769.8" cy="2135" r="1.2"/><circle class="sp" cx="1769.2" cy="2141.9" r="1.4"/>
<path d="M1735.6 2057.5V2141.2"/><path class="h" d="M1735.6 2045.5l7.3 13h-14.6ZM1735.6 2153.2l7.3 -13h-14.6Z"/>
<g transform="translate(1724.75 2099.35) rotate(-90)" style="font-weight:bold;font-size:31.25px"><path class="one" d="M-22.49 -21.5H-15.24V0H-19.63V-17.72H-22.49Z"/><text transform="translate(-13.33 0) scale(1.06 1)">7</text><circle cx="9.41" cy="-2.5" r="2.5"/><path class="one" d="M15.24 -21.5H22.49V0H18.1V-17.72H15.24Z"/></g>
<g transform="translate(1779.5 2009.1)" style="font-weight:bold;font-size:63.95px"><path class="one" d="M-27.28 -44H-12.45V0H-21.43V-36.26H-27.28Z"/><text transform="translate(-8.37 0) scale(1.08 1)">0</text></g>
<path d="M1763.5 2231.4H1801.7"/><path class="h" d="M1751.5 2231.4l13 -7.3v14.6ZM1813.7 2231.4l-13 -7.3v14.6Z"/>
<g transform="translate(1784.6 2278)" style="font-weight:bold;font-size:31.25px"><text transform="translate(-18.62 0) scale(1.05 1)">8</text><circle cx="4.49" cy="-2.5" r="2.5"/><path class="one" d="M10.33 -21.5H17.58V0H13.19V-17.72H10.33Z"/></g>
<use href="#s_coffin" transform="translate(1875.5 2044.5) scale(0.05830 0.13420)" fill="url(#gH)"/>
<use href="#s_coffin" transform="translate(1875.5 2044.5) scale(0.05830 0.13420)" fill="url(#gV)"/>
<path class="gl" d="M1897.7 2047.2C1894.7 2071.3 1893 2095.5 1892.4 2109.6C1895.3 2098.2 1900.6 2074 1902.3 2047.2"/>
<circle class="sp" cx="1892.4" cy="2132.4" r="1.2"/><circle class="sp" cx="1891.8" cy="2139.1" r="1.3"/>
<path d="M1858.7 2057.5V2141.2"/><path class="h" d="M1858.7 2045.5l7.3 13h-14.6ZM1858.7 2153.2l7.3 -13h-14.6Z"/>
<g transform="translate(1847.25 2099.35) rotate(-90)" style="font-weight:bold;font-size:31.25px"><path class="one" d="M-26.61 -21.5H-19.36V0H-23.75V-17.72H-26.61Z"/><text transform="translate(-17.2 0) scale(1.02 1)">6</text><circle cx="5.29" cy="-2.5" r="2.5"/><text transform="translate(9.95 0) scale(1.02 1)">6</text></g>
<g transform="translate(1897.7 2009.1)" style="font-weight:bold;font-size:63.95px"><path class="one" d="M-18.24 -44H-3.41V0H-12.39V-36.26H-18.24Z"/><path class="one" d="M3.41 -44H18.24V0H9.26V-36.26H3.41Z"/></g>
<path d="M1886.6 2231.4H1921.2"/><path class="h" d="M1874.6 2231.4l13 -7.3v14.6ZM1933.2 2231.4l-13 -7.3v14.6Z"/>
<g transform="translate(1902.5 2278)" style="font-weight:bold;font-size:31.25px"><text transform="translate(-22.52 0) scale(1.06 1)">7</text><circle cx="0.22" cy="-2.5" r="2.5"/><text transform="translate(5.12 0) scale(0.97 1)">5</text></g>
<use href="#s_coffin" transform="translate(1991.7 2044.5) scale(0.05620 0.13030)" fill="url(#gH)"/>
<use href="#s_coffin" transform="translate(1991.7 2044.5) scale(0.05620 0.13030)" fill="url(#gV)"/>
<path class="gl" d="M2013.1 2047.1C2010.2 2070.6 2008.6 2094 2008 2107.7C2010.8 2096.6 2015.9 2073.2 2017.6 2047.1"/>
<circle class="sp" cx="2008" cy="2129.8" r="1.2"/><circle class="sp" cx="2007.4" cy="2136.4" r="1.2"/>
<path d="M1975.8 2057.5V2138.8"/><path class="h" d="M1975.8 2045.5l7.3 13h-14.6ZM1975.8 2150.8l7.3 -13h-14.6Z"/>
<g transform="translate(1964.95 2098.15) rotate(-90)" style="font-weight:bold;font-size:31.25px"><path class="one" d="M-26.61 -21.5H-19.36V0H-23.75V-17.72H-26.61Z"/><text transform="translate(-17.2 0) scale(1.02 1)">6</text><circle cx="5.29" cy="-2.5" r="2.5"/><text transform="translate(10.01 0) scale(1.03 1)">2</text></g>
<g transform="translate(2015.7 2009.1)" style="font-weight:bold;font-size:63.95px"><path class="one" d="M-26.66 -44H-11.84V0H-20.81V-36.26H-26.66Z"/><text transform="translate(-7.3 0) scale(1.03 1)">2</text></g>
<path d="M2002.2 2231.4H2035.9"/><path class="h" d="M1990.2 2231.4l13 -7.3v14.6ZM2047.9 2231.4l-13 -7.3v14.6Z"/>
<g transform="translate(2019.6 2278)" style="font-weight:bold;font-size:31.25px"><text transform="translate(-9.16 0) scale(1.06 1)">7</text></g>
<use href="#s_coffin" transform="translate(2105.5 2042) scale(0.05250 0.12480)" fill="url(#gH)"/>
<use href="#s_coffin" transform="translate(2105.5 2042) scale(0.05250 0.12480)" fill="url(#gV)"/>
<path class="gl" d="M2125.4 2044.5C2122.8 2067 2121.2 2089.4 2120.7 2102.5C2123.3 2091.9 2128.1 2069.5 2129.7 2044.5"/>
<circle class="sp" cx="2120.7" cy="2123.7" r="1.2"/><circle class="sp" cx="2120.2" cy="2130" r="1.2"/>
<path d="M2091.4 2057.5V2140.6"/><path class="h" d="M2091.4 2045.5l7.3 13h-14.6ZM2091.4 2152.6l7.3 -13h-14.6Z"/>
<g transform="translate(2079.65 2099.05) rotate(-90)" style="font-weight:bold;font-size:31.25px"><path class="one" d="M-26.18 -21.5H-18.93V0H-23.32V-17.72H-26.18Z"/><text transform="translate(-16.53 0) scale(0.97 1)">5</text><circle cx="5.29" cy="-2.5" r="2.5"/><text transform="translate(10.2 0) scale(0.97 1)">5</text></g>
<g transform="translate(2128.8 2006.6)" style="font-weight:bold;font-size:63.95px"><path class="one" d="M-26.38 -44H-11.55V0H-20.53V-36.26H-26.38Z"/><text transform="translate(-6.17 0) scale(0.98 1)">3</text></g>
<path d="M2119.4 2231.4H2147.9"/><path class="h" d="M2107.4 2231.4l13 -7.3v14.6ZM2159.9 2231.4l-13 -7.3v14.6Z"/>
<g transform="translate(2135.3 2278)" style="font-weight:bold;font-size:31.25px"><text transform="translate(-22.49 0) scale(1.02 1)">6</text><circle cx="0" cy="-2.5" r="2.5"/><text transform="translate(4.66 0) scale(1.02 1)">6</text></g>
<use href="#s_coffin" transform="translate(2211 2042) scale(0.05050 0.12480)" fill="url(#gH)"/>
<use href="#s_coffin" transform="translate(2211 2042) scale(0.05050 0.12480)" fill="url(#gV)"/>
<path class="gl" d="M2230.2 2044.5C2227.7 2067 2226.2 2089.4 2225.6 2102.5C2228.2 2091.9 2232.7 2069.5 2234.2 2044.5"/>
<circle class="sp" cx="2225.6" cy="2123.7" r="1.2"/><circle class="sp" cx="2225.1" cy="2130" r="1.2"/>
<path d="M2196.5 2057.5V2137"/><path class="h" d="M2196.5 2045.5l7.3 13h-14.6ZM2196.5 2149l7.3 -13h-14.6Z"/>
<g transform="translate(2188.55 2097.25) rotate(-90)" style="font-weight:bold;font-size:31.25px"><path class="one" d="M-27.28 -21.5H-20.04V0H-24.42V-17.72H-27.28Z"/><text transform="translate(-17.64 0) scale(0.97 1)">5</text><circle cx="4.18" cy="-2.5" r="2.5"/><text transform="translate(9.53 0) scale(1.03 1)">4</text></g>
<g transform="translate(2230.5 2009.1)" style="font-weight:bold;font-size:63.95px"><path class="one" d="M-28.49 -44H-13.66V0H-22.64V-36.26H-28.49Z"/><text transform="translate(-7.84 0) scale(1.03 1)">4</text></g>
<path d="M2224.7 2231.4H2248.7"/><path class="h" d="M2212.7 2231.4l13 -7.3v14.6ZM2260.7 2231.4l-13 -7.3v14.6Z"/>
<g transform="translate(2237.1 2278)" style="font-weight:bold;font-size:31.25px"><text transform="translate(-22.49 0) scale(1.02 1)">6</text><circle cx="0" cy="-2.5" r="2.5"/><text transform="translate(4.72 0) scale(1.03 1)">2</text></g>
<use href="#s_coffin" transform="translate(2323.5 2042.4) scale(0.06400 0.14190)" fill="url(#gH)"/>
<use href="#s_coffin" transform="translate(2323.5 2042.4) scale(0.06400 0.14190)" fill="url(#gV)"/>
<path class="gl" d="M2347.8 2045.2C2344.6 2070.8 2342.7 2096.3 2342.1 2111.2C2345.3 2099.2 2351 2073.6 2352.9 2045.2"/>
<circle class="sp" cx="2342.1" cy="2135.3" r="1.2"/><circle class="sp" cx="2341.4" cy="2142.4" r="1.4"/>
<path d="M2305.3 2057.5V2149.1"/><path class="h" d="M2305.3 2045.5l7.3 13h-14.6ZM2305.3 2161.1l7.3 -13h-14.6Z"/>
<g transform="translate(2295.95 2103.3) rotate(-90)" style="font-weight:bold;font-size:31.25px"><path class="one" d="M-26.39 -21.5H-19.15V0H-23.53V-17.72H-26.39Z"/><text transform="translate(-17.23 0) scale(1.06 1)">7</text><circle cx="5.5" cy="-2.5" r="2.5"/><text transform="translate(10.41 0) scale(0.97 1)">5</text></g>
<g transform="translate(2353.8 2009.1)" style="font-weight:bold;font-size:63.95px"><path class="one" d="M-26.22 -44H-11.4V0H-20.37V-36.26H-26.22Z"/><text transform="translate(-6.48 0) scale(0.97 1)">5</text></g>
<path d="M2334.1 2231.4H2380.8"/><path class="h" d="M2322.1 2231.4l13 -7.3v14.6ZM2392.8 2231.4l-13 -7.3v14.6Z"/>
<g transform="translate(2356.8 2278)" style="font-weight:bold;font-size:31.25px"><text transform="translate(-22.74 0) scale(1.05 1)">8</text><circle cx="0.38" cy="-2.5" r="2.5"/><text transform="translate(5.1 0) scale(1.03 1)">2</text></g>
<text transform="translate(1115.28 2418) scale(1.04 1)" style="font-size:60.5px;font-style:italic;fill:#fff">Unit:</text><text transform="translate(1256.82 2418) scale(1.14 1)" style="font-size:60.5px;font-style:italic;font-weight:bold;fill:#fff">mm</text>
</svg>
</body></html>
